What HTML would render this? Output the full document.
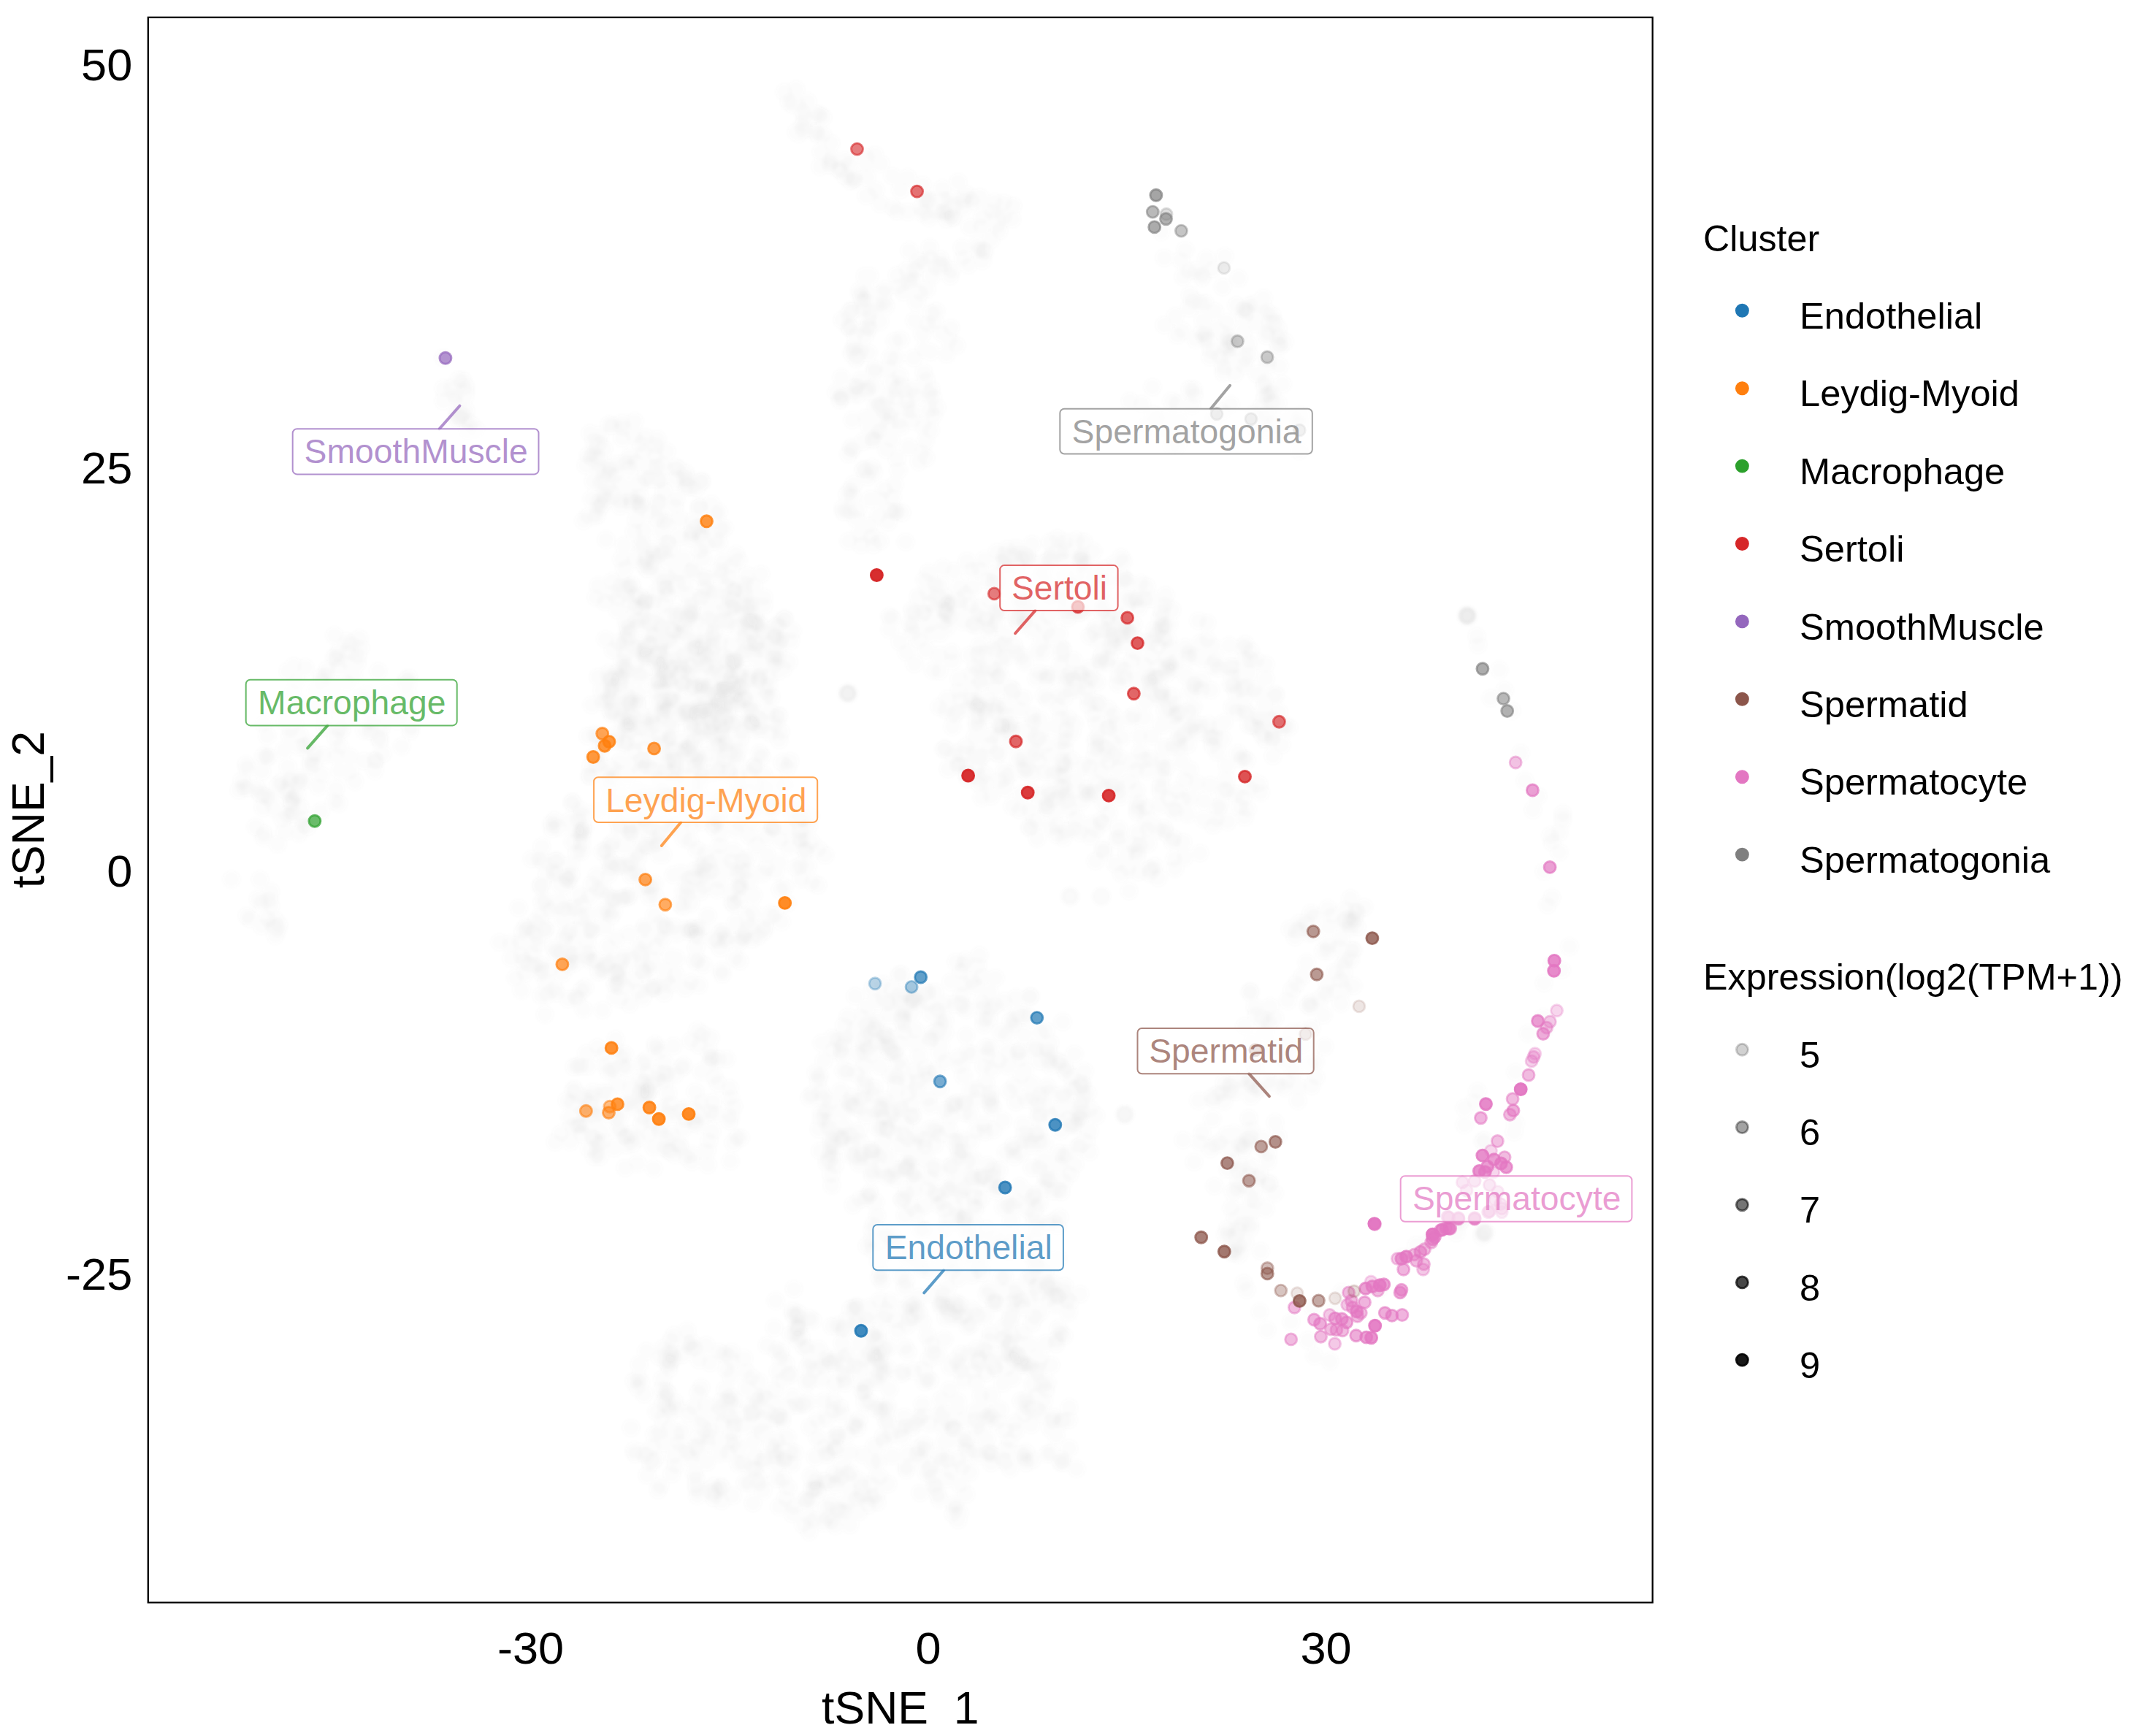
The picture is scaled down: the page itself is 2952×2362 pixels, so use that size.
<!DOCTYPE html>
<html><head><meta charset="utf-8"><title>tSNE expression plot</title>
<style>
html,body{margin:0;padding:0;background:#fff;}
svg{display:block;}
text{font-family:"Liberation Sans",Arial,Helvetica,sans-serif;fill:#000;}
.tk{font-size:61.4px;}
.tt{font-size:62.5px;}
.lg{font-size:50.6px;}
.lb{font-size:46.3px;}
.lt{font-size:50.3px;}
</style></head>
<body>
<svg width="2952" height="2362" viewBox="0 0 2952 2362">
<rect x="0" y="0" width="2952" height="2362" fill="#fff"/>
<defs><clipPath id="pc"><rect x="202.8" y="23.8" width="2059.9" height="2170.5"/></clipPath><filter id="bl" filterUnits="userSpaceOnUse" x="200" y="20" width="2070" height="2180"><feGaussianBlur stdDeviation="2.2"/></filter></defs>
<g clip-path="url(#pc)"><g filter="url(#bl)" fill="none" stroke-linecap="round" stroke-linejoin="round">
<path d="M849 685h0M820 627h0M948 911h0M1039 984h0M981 951h0M886 764h0M948 728h0M870 633h0M888 702h0M855 778h0M947 918h0M1003 990h0M937 857h0M883 598h0M960 659h0M917 957h0M828 677h0M861 991h0M909 714h0M908 932h0M802 637h0M955 720h0M1067 903h0M1064 980h0M838 583h0M917 913h0M954 668h0M1080 906h0M947 991h0M949 841h0M857 919h0M891 777h0M817 706h0M976 973h0M919 1310h0M1005 904h0M1011 1027h0M806 1274h0M759 1123h0M886 1087h0M1026 1058h0M1000 966h0M1026 972h0M827 1020h0M1014 1212h0M1016 830h0M883 1090h0M1084 1115h0M1004 809h0M989 944h0M832 1227h0M959 1221h0M1029 832h0M874 949h0M910 925h0M921 1038h0M798 1116h0M1008 1039h0M784 1306h0M956 1034h0M982 1218h0M1090 1188h0M1041 998h0M793 1272h0M955 1315h0M1033 845h0M902 1149h0M864 1314h0M989 951h0M795 1141h0M889 880h0M966 910h0M922 1131h0M834 955h0M879 1041h0M811 1210h0M1100 1121h0M1120 1212h0M923 1269h0M793 1226h0M1046 890h0M926 1312h0M997 816h0M884 885h0M948 926h0M1033 1110h0M971 1181h0M746 1389h0M1073 903h0M1025 930h0M948 1581h0M858 1568h0M760 1564h0M810 1525h0M934 1462h0M861 1510h0M803 1442h0M807 1573h0M802 1541h0M841 1572h0M877 1499h0M984 1450h0M903 1549h0M528 986h0M518 919h0M475 967h0M390 1139h0M446 925h0M417 1021h0M513 1055h0M317 1204h0M1163 224h0M1118 181h0M1233 260h0M1323 266h0M1264 292h0M1296 300h0M1228 289h0M1227 490h0M1197 509h0M1348 345h0M1257 357h0M1199 592h0M1282 426h0M1192 426h0M1301 378h0M1274 589h0M1280 441h0M1185 572h0M1190 584h0M1181 412h0M1208 574h0M1319 353h0M1737 499h0M1675 510h0M1724 512h0M1730 408h0M1727 420h0M1637 465h0M1749 578h0M1717 567h0M1721 512h0M1702 501h0M1718 416h0M1623 594h0M1569 583h0M1663 569h0M1431 1102h0M1529 1074h0M1760 994h0M1704 1119h0M1518 845h0M1435 801h0M1531 1052h0M1467 1040h0M1397 971h0M1580 927h0M1575 946h0M1473 1068h0M1341 884h0M1251 866h0M1369 991h0M1452 910h0M1724 1074h0M1508 822h0M1716 1070h0M1358 914h0M1339 982h0M1539 792h0M1688 938h0M1481 760h0M1362 787h0M1291 777h0M1304 828h0M1532 927h0M1500 1179h0M1712 903h0M1591 856h0M1518 996h0M1687 913h0M1292 852h0M1547 867h0M1367 796h0M1322 813h0M1556 1054h0M1523 870h0M1521 1073h0M1437 817h0M1557 1105h0M1513 779h0M1539 917h0M1467 801h0M1314 831h0M1597 1051h0M1304 905h0M1742 1009h0M1620 1006h0M1418 1124h0M1628 899h0M1354 862h0M1334 965h0M1351 914h0M1588 956h0M1500 1014h0M1391 750h0M1309 1317h0M1351 1772h0M1371 1750h0M1341 1613h0M1303 1514h0M1405 1688h0M1155 1556h0M1440 1764h0M1274 1614h0M1356 1825h0M1137 1567h0M1122 1473h0M1398 1780h0M1344 1372h0M1380 1687h0M1299 1547h0M1489 1497h0M1383 1839h0M1458 1761h0M1215 1434h0M1416 1437h0M1400 1825h0M1244 1498h0M1199 1646h0M1215 1584h0M1175 1443h0M1207 1519h0M1197 1490h0M1210 1581h0M1313 1578h0M1368 1602h0M1237 1390h0M1233 1703h0M1210 1564h0M1443 1672h0M1287 1443h0M1449 1453h0M1288 1433h0M1467 1474h0M1461 1779h0M1410 1871h0M1193 1851h0M1023 1935h0M1220 1964h0M943 1935h0M1272 1861h0M1214 1946h0M1131 1859h0M914 1860h0M1019 1860h0M1002 1962h0M1316 1804h0M1366 1946h0M1133 1990h0M919 1835h0M1066 1938h0M1464 1983h0M1214 1930h0M1034 1931h0M1100 2088h0M1093 1798h0M1034 2012h0M1405 2003h0M1060 1903h0M1452 2002h0M1413 1930h0M1255 1992h0M920 2018h0M1120 2040h0M1286 2053h0M1105 1893h0M1064 1971h0M1280 2038h0M903 1858h0M1421 1929h0M1237 1879h0M934 1855h0M1139 2083h0M1314 1870h0M1289 1786h0M1087 2063h0M1126 1889h0M1156 1820h0M1116 1995h0M1097 1831h0M1000 1884h0M1176 1874h0M916 1874h0M1005 1942h0M1319 1890h0M1163 2042h0M1189 1854h0M1245 1805h0M1160 2056h0M1285 1856h0M1131 1942h0M1170 1791h0M1159 1808h0M1812 1302h0M1696 1718h0M1712 1682h0M1775 1347h0M1746 1537h0M1697 1568h0M1697 1717h0M1722 1492h0M1742 1436h0M1794 1373h0M1728 1559h0M1750 1556h0M1868 1242h0M2053 917h0M2082 1031h0M2099 1109h0M2135 1167h0M2119 1239h0M2002 1670h0" stroke="#7a7a7a" stroke-opacity="0.02" stroke-width="23.2"/>
<path d="M991 826h0M857 633h0M879 744h0M937 656h0M911 806h0M963 765h0M1029 991h0M831 961h0M913 717h0M1047 866h0M999 953h0M868 597h0M819 686h0M865 691h0M870 688h0M936 866h0M990 970h0M893 752h0M890 656h0M883 823h0M902 657h0M946 737h0M987 724h0M949 960h0M890 882h0M897 946h0M994 906h0M906 728h0M992 898h0M1038 859h0M914 766h0M857 993h0M1027 924h0M902 688h0M917 842h0M984 988h0M983 918h0M990 769h0M795 1109h0M978 957h0M947 878h0M970 939h0M925 1043h0M958 1070h0M918 1091h0M849 937h0M862 1375h0M1063 858h0M978 904h0M1096 1185h0M977 939h0M1031 826h0M829 875h0M984 1020h0M892 1134h0M996 918h0M809 1049h0M910 1327h0M1046 829h0M855 1185h0M892 1320h0M919 1010h0M894 1313h0M943 974h0M857 812h0M925 838h0M1066 855h0M935 918h0M1002 832h0M759 1354h0M958 1008h0M828 824h0M867 1141h0M955 1283h0M814 1006h0M787 1136h0M885 1127h0M893 1015h0M930 960h0M886 1213h0M839 1231h0M724 1320h0M883 890h0M775 1201h0M964 1214h0M985 1126h0M895 1353h0M912 1341h0M906 881h0M780 1124h0M855 1099h0M894 990h0M1046 1275h0M746 1233h0M1030 850h0M1010 858h0M1050 864h0M825 1383h0M728 1176h0M1079 1135h0M1032 1226h0M740 1327h0M851 800h0M947 1130h0M820 1045h0M933 1013h0M1012 941h0M999 1055h0M917 1511h0M983 1483h0M880 1456h0M974 1448h0M826 1496h0M867 1515h0M821 1584h0M792 1541h0M889 1494h0M846 1485h0M776 1507h0M825 1513h0M936 1459h0M464 966h0M492 874h0M523 995h0M331 1069h0M366 1008h0M460 1011h0M355 1086h0M505 989h0M366 1092h0M464 913h0M507 968h0M424 1018h0M401 1093h0M440 1061h0M552 976h0M358 1236h0M366 1258h0M1123 157h0M1328 311h0M1149 233h0M1345 297h0M1357 328h0M1291 273h0M1227 532h0M1162 741h0M1178 404h0M1145 537h0M1181 422h0M1195 602h0M1225 467h0M1217 580h0M1300 466h0M1153 438h0M1290 456h0M1189 483h0M1267 604h0M1217 505h0M1296 485h0M1162 622h0M1254 541h0M652 588h0M1727 557h0M1735 568h0M1781 569h0M1590 317h0M1680 478h0M1751 461h0M1638 370h0M1590 861h0M1630 1093h0M1425 1001h0M1417 1010h0M1392 774h0M1711 1079h0M1424 985h0M1503 801h0M1708 1108h0M1434 924h0M1409 837h0M1635 990h0M1423 1042h0M1249 857h0M1637 941h0M1297 825h0M1434 823h0M1550 1043h0M1742 1012h0M1360 798h0M1531 1084h0M1590 1043h0M1398 819h0M1531 936h0M1403 907h0M1277 918h0M1441 1095h0M1454 896h0M1378 1064h0M1492 871h0M1396 1109h0M1268 890h0M1609 963h0M1362 802h0M1518 971h0M1451 822h0M1449 828h0M1454 1078h0M1375 1056h0M1388 883h0M1574 933h0M1512 1078h0M1559 1098h0M1357 1008h0M1503 963h0M1657 1075h0M1660 1021h0M1348 766h0M1535 1196h0M1420 1148h0M1566 1040h0M1423 1090h0M1482 923h0M1341 1073h0M1454 888h0M1658 945h0M1227 1482h0M1197 1521h0M1368 1453h0M1184 1504h0M1231 1515h0M1243 1559h0M1239 1763h0M1487 1562h0M1465 1783h0M1177 1518h0M1349 1550h0M1461 1580h0M1339 1322h0M1357 1514h0M1418 1653h0M1162 1509h0M1423 1564h0M1302 1598h0M1479 1568h0M1391 1644h0M1336 1654h0M1354 1394h0M1271 1374h0M1433 1435h0M1331 1343h0M1413 1599h0M1193 1586h0M1273 1425h0M1243 1717h0M1216 1420h0M1227 1496h0M1236 1643h0M1424 1797h0M1439 1869h0M1173 1470h0M1202 1544h0M1143 1553h0M1414 1663h0M1293 1374h0M1344 1743h0M1265 1651h0M1310 1784h0M1438 1428h0M1437 1496h0M1401 1562h0M1243 1560h0M1374 1653h0M1448 1679h0M1196 1577h0M1320 1321h0M1417 1723h0M1136 1579h0M1253 1411h0M1319 1680h0M1426 1708h0M1219 1440h0M1271 1359h0M1404 1702h0M1135 1534h0M1457 1502h0M1450 1629h0M1426 1683h0M1401 1540h0M1323 1663h0M1237 1402h0M1301 1597h0M1140 1438h0M1309 1510h0M1305 1741h0M1312 1448h0M1234 1394h0M1204 1515h0M1431 1741h0M1413 1812h0M1213 1691h0M1157 1888h0M1026 2031h0M977 2051h0M1143 2018h0M1062 1781h0M1222 1994h0M1382 1972h0M1039 2025h0M1266 1892h0M1165 1792h0M970 1967h0M1324 1987h0M1207 1933h0M1047 1997h0M1263 1938h0M1071 1945h0M1031 2058h0M1388 1862h0M977 2035h0M950 1927h0M1243 1991h0M1229 1822h0M1249 1954h0M978 1969h0M1028 1926h0M1031 1935h0M1084 2004h0M1108 1890h0M1315 2033h0M1072 2026h0M1174 1811h0M952 1846h0M1191 1920h0M1427 1895h0M913 1905h0M1094 1818h0M1113 1808h0M1174 1955h0M1336 1944h0M1083 1827h0M915 1926h0M1183 1860h0M1403 1867h0M986 1990h0M1737 1480h0M1828 1331h0M1689 1716h0M1728 1571h0M1849 1314h0M1735 1821h0M1676 1483h0M1670 1564h0M1681 1601h0M1724 1489h0M1738 1620h0M2041 956h0M2060 945h0" stroke="#7a7a7a" stroke-opacity="0.02" stroke-width="23.2"/>
<path d="M812 659h0M1022 816h0M916 862h0M868 728h0M819 927h0M984 701h0M1069 876h0M897 623h0M819 643h0M907 972h0M901 695h0M902 688h0M969 723h0M877 694h0M926 655h0M1015 941h0M926 683h0M863 625h0M879 848h0M993 835h0M951 887h0M920 887h0M834 581h0M894 825h0M742 1159h0M952 991h0M1022 1193h0M943 1095h0M966 1002h0M837 1180h0M864 964h0M892 1158h0M1057 1132h0M1020 799h0M1001 1191h0M830 1321h0M885 899h0M942 1025h0M787 1318h0M903 1010h0M835 1078h0M955 977h0M984 1173h0M790 1167h0M861 1279h0M1036 1156h0M874 1167h0M1030 1126h0M842 1348h0M771 1259h0M743 1179h0M845 1005h0M896 1253h0M863 826h0M1054 882h0M770 1333h0M1012 1062h0M970 1192h0M907 1286h0M1012 1217h0M991 1186h0M857 875h0M850 1186h0M778 1248h0M782 1197h0M960 1188h0M1034 1050h0M1060 897h0M1044 1196h0M892 1093h0M1004 1165h0M883 1024h0M873 1198h0M897 1087h0M850 1230h0M861 1187h0M854 1308h0M990 1276h0M796 1145h0M923 866h0M922 1432h0M786 1491h0M952 1519h0M926 1525h0M795 1460h0M842 1437h0M937 1518h0M781 1563h0M814 1584h0M911 1469h0M792 1500h0M960 1529h0M865 1553h0M823 1526h0M1005 1515h0M947 1591h0M955 1411h0M818 1434h0M908 1518h0M411 962h0M544 987h0M563 995h0M463 894h0M431 1032h0M458 957h0M448 960h0M409 1072h0M507 1001h0M409 1141h0M514 1040h0M559 957h0M358 1268h0M342 1258h0M1092 142h0M1090 122h0M1137 222h0M1085 143h0M1205 279h0M1293 290h0M1301 273h0M1271 274h0M1331 275h0M1184 378h0M1265 510h0M1191 378h0M1215 543h0M1188 448h0M1217 568h0M1179 746h0M1196 529h0M1275 533h0M1287 362h0M1210 413h0M1251 490h0M1230 644h0M1237 533h0M1209 401h0M1222 681h0M1233 526h0M607 490h0M1709 427h0M1750 552h0M1644 415h0M1691 511h0M1738 540h0M1710 485h0M1735 492h0M1753 474h0M1750 473h0M1645 456h0M1604 611h0M1660 578h0M1632 556h0M1586 1137h0M1643 1168h0M1504 963h0M1550 905h0M1357 1090h0M1732 1012h0M1516 797h0M1336 914h0M1559 1194h0M1410 825h0M1503 1010h0M1378 869h0M1620 1094h0M1483 1049h0M1453 1016h0M1578 1128h0M1572 1155h0M1332 943h0M1569 1120h0M1587 1103h0M1576 820h0M1352 794h0M1556 1082h0M1703 1038h0M1491 1085h0M1364 842h0M1724 998h0M1457 1061h0M1336 856h0M1561 1030h0M1323 1059h0M1408 766h0M1474 740h0M1586 1202h0M1398 757h0M1502 1071h0M1486 772h0M1507 905h0M1379 787h0M1259 876h0M1440 764h0M1504 878h0M1429 783h0M1599 876h0M1502 934h0M1661 1130h0M1463 984h0M1558 819h0M1271 784h0M1562 799h0M1481 1097h0M1491 957h0M1423 1011h0M1532 1135h0M1419 929h0M1653 876h0M1755 1020h0M1733 910h0M1726 1085h0M1434 1106h0M1668 915h0M1523 877h0M1317 1362h0M1347 1540h0M1382 1714h0M1280 1358h0M1184 1458h0M1270 1478h0M1370 1706h0M1417 1803h0M1303 1714h0M1207 1754h0M1419 1734h0M1233 1569h0M1284 1717h0M1325 1590h0M1277 1599h0M1347 1460h0M1388 1769h0M1347 1612h0M1253 1428h0M1417 1700h0M1365 1624h0M1201 1665h0M1186 1640h0M1374 1769h0M1231 1335h0M1300 1630h0M1195 1711h0M1324 1719h0M1410 1841h0M1448 1775h0M1120 1479h0M1437 1614h0M1125 1524h0M1434 1488h0M1398 1839h0M1250 1370h0M1271 1739h0M1383 1855h0M1435 1676h0M1249 1609h0M1255 1491h0M1138 1609h0M1360 1600h0M1306 1804h0M1184 1431h0M1246 1594h0M1301 1725h0M1465 1607h0M1450 1579h0M1160 1467h0M1195 1353h0M1293 1734h0M1243 1851h0M1044 2001h0M1270 1829h0M899 1933h0M1134 2077h0M884 1992h0M1040 2031h0M998 1973h0M1455 2003h0M1362 1873h0M1218 1902h0M1169 1953h0M1023 1901h0M960 1900h0M988 2036h0M1308 2065h0M1150 1927h0M1286 1937h0M1295 1786h0M1300 1903h0M1091 1924h0M1250 1804h0M1063 2004h0M1316 1854h0M1105 2053h0M1153 1881h0M1183 1906h0M907 1888h0M1147 1966h0M1248 1795h0M1258 1983h0M1086 1800h0M1297 1945h0M1289 2000h0M1067 2063h0M1092 1835h0M914 1908h0M1197 1980h0M985 1927h0M991 1854h0M1354 1853h0M1200 2047h0M1273 2013h0M1127 1981h0M1390 1948h0M1011 2004h0M1035 1910h0M1206 1870h0M1078 1968h0M1295 1804h0M1800 1857h0M1707 1561h0M1721 1623h0M1728 1396h0M1705 1700h0M1818 1244h0M1857 1248h0M2024 883h0M2140 1114h0M1791 1835h0M1768 1810h0M2029 1693h0" stroke="#7a7a7a" stroke-opacity="0.02" stroke-width="23.2"/>
<path d="M846 819h0M1034 899h0M805 707h0M845 635h0M899 811h0M1029 966h0M941 655h0M869 577h0M866 992h0M977 866h0M842 799h0M931 711h0M1008 759h0M928 641h0M1061 873h0M1022 890h0M993 984h0M907 978h0M1002 774h0M960 731h0M813 706h0M908 796h0M943 980h0M980 740h0M897 902h0M1044 911h0M995 906h0M871 984h0M941 976h0M950 939h0M953 1191h0M807 1227h0M952 1316h0M870 1096h0M742 1332h0M859 859h0M867 1342h0M931 1099h0M824 1249h0M913 1056h0M1082 1042h0M1027 851h0M879 833h0M910 922h0M1008 935h0M1017 1284h0M710 1243h0M997 1058h0M1033 853h0M1097 1204h0M953 1298h0M918 1133h0M1003 1236h0M844 1332h0M706 1339h0M859 1018h0M990 972h0M1045 1078h0M892 1215h0M916 932h0M862 804h0M1003 954h0M885 999h0M1012 1077h0M949 999h0M712 1290h0M839 1065h0M961 1063h0M1070 1262h0M1050 1189h0M780 1308h0M861 1228h0M767 1305h0M1056 1108h0M999 1061h0M700 1312h0M754 1327h0M780 1275h0M938 1353h0M995 945h0M1006 990h0M1058 1133h0M1005 990h0M883 991h0M1085 864h0M838 796h0M1008 905h0M835 1158h0M907 1082h0M959 1270h0M965 970h0M949 780h0M844 1285h0M734 1293h0M931 1238h0M936 1125h0M1095 1149h0M902 894h0M910 1032h0M906 1090h0M960 1125h0M975 1549h0M903 1541h0M917 1576h0M827 1442h0M873 1593h0M957 1431h0M959 1509h0M855 1443h0M803 1522h0M938 1533h0M915 1497h0M796 1553h0M974 1449h0M823 1549h0M507 956h0M436 1077h0M524 961h0M359 1056h0M437 966h0M474 878h0M432 946h0M562 1001h0M350 1132h0M520 1014h0M475 934h0M399 1109h0M458 1097h0M478 985h0M418 914h0M399 1096h0M1136 226h0M1138 196h0M1222 284h0M1303 370h0M1188 653h0M1232 515h0M1241 370h0M1345 355h0M1216 715h0M1162 430h0M1317 339h0M1152 542h0M1171 458h0M1345 357h0M1246 377h0M1193 734h0M1170 474h0M1255 414h0M1249 576h0M1205 440h0M1165 425h0M1270 444h0M1232 576h0M628 571h0M634 521h0M638 562h0M1617 356h0M1646 376h0M1735 566h0M1732 543h0M1629 404h0M1671 489h0M1691 477h0M1734 589h0M1563 553h0M1613 610h0M1579 567h0M1581 590h0M1591 993h0M1609 906h0M1653 853h0M1501 859h0M1440 1086h0M1412 1025h0M1551 1156h0M1506 907h0M1401 1038h0M1458 1045h0M1584 952h0M1449 969h0M1371 903h0M1591 953h0M1439 871h0M1704 953h0M1404 855h0M1459 1138h0M1707 939h0M1680 1082h0M1615 1024h0M1241 893h0M1370 925h0M1584 928h0M1456 1076h0M1326 970h0M1294 836h0M1518 1113h0M1450 868h0M1314 804h0M1703 903h0M1473 789h0M1601 970h0M1552 855h0M1543 796h0M1481 766h0M1415 863h0M1588 927h0M1324 768h0M1620 1153h0M1566 983h0M1705 973h0M1296 859h0M1664 1009h0M1525 1016h0M1479 922h0M1511 862h0M1287 867h0M1518 901h0M1536 882h0M1275 867h0M1460 999h0M1286 968h0M1487 1080h0M1707 1041h0M1473 1120h0M1438 742h0M1125 1428h0M1155 1542h0M1225 1442h0M1421 1673h0M1321 1524h0M1335 1677h0M1212 1417h0M1140 1421h0M1273 1514h0M1228 1474h0M1201 1398h0M1346 1380h0M1252 1630h0M1333 1699h0M1331 1793h0M1322 1510h0M1111 1499h0M1221 1691h0M1134 1544h0M1402 1417h0M1336 1689h0M1215 1693h0M1417 1695h0M1215 1374h0M1391 1509h0M1423 1648h0M1194 1684h0M1411 1747h0M1200 1371h0M1250 1366h0M1361 1782h0M1329 1492h0M1187 1379h0M1279 1635h0M1220 1433h0M1424 1498h0M1375 1371h0M1417 1672h0M1220 1610h0M1316 1330h0M1249 1529h0M1247 1586h0M1253 1467h0M1334 1638h0M1453 1632h0M1254 1615h0M1194 1603h0M1395 1440h0M1060 1921h0M1138 2058h0M1377 1831h0M1344 1961h0M1039 1892h0M968 2002h0M1045 2041h0M988 2055h0M1241 2008h0M1180 1894h0M1012 1984h0M1203 2000h0M929 1976h0M1255 1793h0M874 1887h0M897 1998h0M1199 1929h0M1201 2057h0M1049 1915h0M1128 1919h0M966 1924h0M1398 1991h0M957 1862h0M1114 2038h0M1276 2021h0M1323 1972h0M891 2004h0M1328 2016h0M1110 2053h0M1161 1855h0M1376 1958h0M1403 1937h0M1289 1789h0M941 1822h0M954 1980h0M957 1991h0M1414 1895h0M1201 1892h0M875 1868h0M1351 1971h0M997 1918h0M1202 1825h0M1210 1973h0M1263 1810h0M984 1851h0M1020 2030h0M1296 2025h0M1134 2029h0M1836 1374h0M1745 1634h0M1701 1661h0M1853 1262h0M1683 1692h0M1849 1270h0M1712 1479h0M1691 1669h0M1796 1487h0M1836 1342h0M1697 1706h0M1793 1278h0M1719 1464h0M1713 1660h0M1710 1531h0M1788 1263h0M2022 871h0M2106 1090h0M2138 1328h0M2030 1563h0M1837 1769h0M1829 1795h0" stroke="#7a7a7a" stroke-opacity="0.02" stroke-width="23.2"/>
<path d="M986 992h0M871 712h0M870 687h0M961 973h0M926 783h0M821 596h0M808 593h0M1019 853h0M930 735h0M850 662h0M861 962h0M894 770h0M878 608h0M990 967h0M854 747h0M936 765h0M982 964h0M830 739h0M845 835h0M875 885h0M864 685h0M1066 919h0M851 766h0M813 621h0M852 586h0M719 1270h0M980 1021h0M714 1356h0M957 1086h0M773 1285h0M825 1218h0M868 1029h0M889 1228h0M755 1128h0M804 1253h0M850 1087h0M1069 1150h0M845 1124h0M817 1047h0M850 1058h0M848 1137h0M799 1133h0M965 1169h0M995 990h0M1026 839h0M1083 877h0M1014 1011h0M762 1360h0M945 1273h0M1074 878h0M1007 1264h0M870 815h0M805 1304h0M799 1382h0M1023 788h0M890 854h0M889 850h0M860 1227h0M982 1287h0M859 1062h0M1073 915h0M781 1184h0M1069 1002h0M876 1357h0M901 909h0M741 1363h0M789 1366h0M963 1321h0M805 1008h0M925 1068h0M878 997h0M841 1231h0M1005 1238h0M882 887h0M951 1049h0M899 852h0M810 1274h0M1039 932h0M758 1192h0M1006 808h0M976 873h0M898 993h0M1013 921h0M820 1331h0M836 1188h0M857 1557h0M843 1423h0M882 1501h0M881 1530h0M884 1452h0M783 1509h0M889 1553h0M833 1467h0M883 1482h0M793 1541h0M1009 1558h0M837 1526h0M812 1495h0M795 1517h0M1000 1528h0M396 1087h0M514 1042h0M394 919h0M338 1079h0M480 881h0M397 1072h0M421 1132h0M428 969h0M464 1100h0M415 1069h0M463 999h0M402 912h0M377 1281h0M376 1269h0M1124 208h0M1305 298h0M1165 248h0M1368 316h0M1319 274h0M1265 479h0M1194 640h0M1225 664h0M1185 458h0M1152 517h0M1272 561h0M1212 396h0M1221 562h0M1164 671h0M1155 701h0M1263 457h0M1228 628h0M1264 360h0M1172 491h0M1326 363h0M1188 400h0M1274 482h0M1179 480h0M1184 459h0M644 580h0M607 549h0M621 548h0M1709 471h0M1704 424h0M1612 459h0M1683 489h0M1719 443h0M1663 426h0M1654 466h0M1759 468h0M1353 957h0M1457 837h0M1508 1056h0M1635 936h0M1251 839h0M1596 1140h0M1702 943h0M1594 1023h0M1593 874h0M1586 913h0M1367 1032h0M1569 1106h0M1491 1088h0M1538 769h0M1534 1091h0M1335 1031h0M1520 790h0M1599 921h0M1451 758h0M1431 1057h0M1623 886h0M1609 981h0M1567 821h0M1710 993h0M1578 1191h0M1328 828h0M1429 771h0M1660 885h0M1406 812h0M1507 1124h0M1306 782h0M1532 1146h0M1721 996h0M1765 996h0M1556 1165h0M1398 766h0M1575 1196h0M1382 1060h0M1591 838h0M1471 991h0M1337 990h0M1634 968h0M1532 1037h0M1376 968h0M1465 922h0M1554 893h0M1342 1038h0M1547 1071h0M1751 975h0M1614 1013h0M1402 1054h0M1314 1046h0M1494 805h0M1401 828h0M1468 1002h0M1659 1010h0M1743 1001h0M1341 958h0M1644 880h0M1699 1039h0M1498 792h0M1282 818h0M1396 793h0M1674 1012h0M1370 994h0M1293 817h0M1281 835h0M1376 1079h0M1443 757h0M1304 995h0M1306 1562h0M1125 1532h0M1266 1684h0M1186 1527h0M1137 1509h0M1188 1436h0M1153 1443h0M1493 1519h0M1304 1623h0M1348 1802h0M1239 1384h0M1429 1589h0M1422 1550h0M1253 1368h0M1235 1375h0M1394 1855h0M1337 1505h0M1198 1408h0M1445 1786h0M1250 1528h0M1347 1610h0M1343 1642h0M1318 1623h0M1477 1570h0M1442 1773h0M1341 1308h0M1231 1362h0M1408 1751h0M1420 1710h0M1452 1456h0M1419 1857h0M1373 1534h0M1214 1545h0M1477 1524h0M1337 1549h0M1315 1632h0M1345 1699h0M1177 1643h0M1203 1702h0M1401 1790h0M1465 1541h0M1430 1588h0M1389 1584h0M1406 1865h0M1316 1374h0M1240 1601h0M1436 1439h0M1365 1783h0M1425 1862h0M1350 1434h0M1179 1504h0M1364 1631h0M1389 1487h0M1471 1443h0M1209 1695h0M1318 2009h0M1097 1923h0M1293 1834h0M1147 2067h0M1109 1954h0M1069 1859h0M924 1920h0M1314 2072h0M1141 1971h0M1093 1818h0M1446 1965h0M955 2048h0M1002 1851h0M1304 1954h0M1463 1944h0M1205 1927h0M1085 1913h0M1242 1815h0M1289 1916h0M1202 1834h0M1060 1985h0M1204 1781h0M1309 1796h0M1003 2048h0M946 1846h0M1197 1841h0M993 1903h0M1106 1871h0M1205 1865h0M1110 2021h0M1106 1919h0M1323 1978h0M982 2041h0M1154 1868h0M1438 1956h0M1159 1869h0M1182 2048h0M970 2041h0M1113 2028h0M1312 2081h0M1452 1946h0M1245 1787h0M1153 2022h0M1155 1859h0M886 2020h0M1144 2089h0M1029 1935h0M1063 1942h0M1153 2008h0M1326 1854h0M934 1960h0M1021 1878h0M1712 1546h0M1688 1632h0M1685 1714h0M1770 1414h0M1814 1433h0M1710 1559h0M1817 1348h0M1718 1379h0M1695 1604h0M1725 1608h0M1794 1457h0M1836 1285h0M1819 1269h0M1791 1377h0M1802 1475h0M1858 1248h0M2123 1144h0M2125 1321h0M1956 1701h0" stroke="#7a7a7a" stroke-opacity="0.02" stroke-width="23.2"/>
<path d="M1059 900h0M828 685h0M966 792h0M1014 927h0M909 673h0M851 971h0M984 743h0M901 710h0M959 754h0M859 953h0M827 615h0M908 959h0M842 651h0M958 897h0M1007 939h0M837 946h0M913 618h0M833 922h0M846 1186h0M767 1211h0M1043 1036h0M717 1316h0M1057 1107h0M896 1101h0M773 1212h0M881 1330h0M1000 931h0M856 896h0M767 1303h0M973 1001h0M976 885h0M936 937h0M860 867h0M837 1254h0M941 891h0M972 983h0M901 1155h0M1039 1098h0M1020 869h0M810 1272h0M1026 1144h0M1061 870h0M965 1193h0M905 1067h0M1025 851h0M832 924h0M991 1039h0M880 1366h0M857 1351h0M1010 962h0M847 1352h0M761 1178h0M1067 980h0M891 868h0M1012 1290h0M874 857h0M936 1063h0M984 1121h0M993 1010h0M943 846h0M870 1045h0M882 1269h0M900 1351h0M1001 1031h0M854 1158h0M872 960h0M765 1133h0M978 810h0M887 1355h0M758 1298h0M1004 927h0M762 1132h0M846 1346h0M1062 1193h0M930 908h0M954 1271h0M916 1349h0M836 973h0M1067 1181h0M974 1193h0M959 939h0M829 1165h0M863 873h0M1106 1186h0M904 912h0M992 937h0M1050 947h0M903 1440h0M960 1467h0M902 1469h0M972 1457h0M935 1546h0M913 1472h0M856 1599h0M893 1535h0M866 1566h0M999 1535h0M551 939h0M360 1106h0M560 936h0M550 1022h0M401 947h0M445 996h0M519 1010h0M458 870h0M498 1042h0M499 1000h0M352 1079h0M361 1035h0M361 991h0M356 1204h0M353 1231h0M1118 183h0M1386 300h0M1170 245h0M1199 260h0M1206 224h0M1269 274h0M1198 212h0M1233 584h0M1174 698h0M1203 706h0M1177 398h0M1197 601h0M1283 558h0M1249 532h0M1245 386h0M1152 545h0M1227 700h0M1260 401h0M1187 535h0M1666 450h0M1776 577h0M1676 456h0M1752 501h0M1736 455h0M1677 473h0M1611 552h0M1578 530h0M1386 950h0M1294 1025h0M1318 851h0M1515 907h0M1332 804h0M1356 823h0M1518 854h0M1541 928h0M1344 1035h0M1569 880h0M1492 1050h0M1465 1108h0M1338 1051h0M1440 926h0M1367 1008h0M1385 943h0M1335 1009h0M1365 1031h0M1746 952h0M1325 1032h0M1355 858h0M1647 902h0M1383 991h0M1666 1121h0M1409 1133h0M1509 814h0M1339 996h0M1488 943h0M1637 898h0M1639 1073h0M1581 1186h0M1609 1189h0M1450 815h0M1455 890h0M1557 1172h0M1590 949h0M1491 965h0M1536 870h0M1648 1122h0M1394 1039h0M1508 794h0M1626 1115h0M1703 886h0M1286 919h0M1530 1150h0M1675 1082h0M1671 1102h0M1339 969h0M1392 847h0M1595 973h0M1500 780h0M1622 1174h0M1395 823h0M1330 924h0M1249 835h0M1313 1030h0M1497 755h0M1515 1024h0M1483 1086h0M1583 928h0M1265 840h0M1303 893h0M1485 786h0M1315 958h0M1469 801h0M1461 1090h0M1600 1093h0M1458 742h0M1482 1488h0M1455 1499h0M1108 1503h0M1457 1617h0M1308 1788h0M1280 1567h0M1463 1797h0M1306 1785h0M1177 1585h0M1319 1473h0M1480 1511h0M1312 1750h0M1128 1452h0M1389 1396h0M1320 1667h0M1289 1403h0M1474 1489h0M1420 1732h0M1434 1448h0M1424 1413h0M1423 1519h0M1239 1664h0M1383 1706h0M1421 1758h0M1360 1610h0M1459 1467h0M1380 1460h0M1355 1359h0M1354 1766h0M1356 1496h0M1207 1545h0M1347 1395h0M1403 1552h0M1402 1390h0M1325 1441h0M1277 1415h0M1166 1502h0M1457 1829h0M1410 1365h0M1433 1516h0M1240 1754h0M1456 1584h0M1224 1552h0M1281 1467h0M1215 1371h0M1210 1368h0M1201 1427h0M1331 1746h0M1319 1509h0M1422 1773h0M1238 1413h0M1480 1530h0M1290 1645h0M1326 1681h0M1437 1447h0M1241 1633h0M1423 1526h0M1243 1724h0M1442 1631h0M1457 1768h0M1294 1414h0M1258 1446h0M1472 1594h0M1191 1633h0M1127 1870h0M1092 1802h0M1336 1932h0M1037 1917h0M1291 1935h0M1347 1848h0M1346 1932h0M1195 2001h0M1334 1877h0M1117 2027h0M1239 1953h0M1143 1984h0M1386 1887h0M1186 1806h0M1373 1894h0M1289 1952h0M1199 1859h0M986 2036h0M923 1859h0M1239 1844h0M1157 1894h0M1216 2032h0M894 1981h0M1050 1842h0M1176 1944h0M1391 1959h0M952 1982h0M1268 2016h0M1413 1999h0M1267 1985h0M969 1976h0M1060 1818h0M1080 1926h0M1374 1834h0M1128 2085h0M1275 2008h0M1438 1989h0M1226 1808h0M1073 1998h0M1273 1890h0M1090 1802h0M1455 1997h0M1172 1789h0M1182 1992h0M1209 1967h0M1419 1879h0M1088 1989h0M1842 1316h0M1783 1337h0M1853 1301h0M1741 1485h0M1712 1357h0M1775 1274h0M1643 1564h0M1738 1400h0M1771 1459h0M1759 1451h0M1712 1597h0M1800 1255h0M1713 1642h0M1750 1485h0M1847 1264h0M2114 1346h0M2115 1409h0M2073 1550h0M2075 1538h0M2028 1604h0M1888 1765h0M2135 1140h0M2005 1517h0" stroke="#7a7a7a" stroke-opacity="0.02" stroke-width="23.2"/>
<path d="M914 814h0M966 895h0M862 641h0M810 965h0M988 1004h0M824 639h0M883 655h0M961 945h0M914 744h0M824 946h0M915 973h0M987 960h0M961 945h0M876 680h0M882 774h0M970 847h0M809 627h0M916 931h0M831 668h0M961 659h0M996 980h0M899 610h0M915 877h0M828 651h0M993 942h0M1049 954h0M938 1273h0M734 1262h0M894 981h0M967 873h0M1074 1215h0M927 1278h0M954 1163h0M833 1198h0M732 1322h0M850 929h0M1055 1251h0M977 1059h0M985 1158h0M736 1284h0M994 1283h0M746 1272h0M791 1122h0M946 1237h0M885 1049h0M960 819h0M796 1257h0M838 1316h0M906 859h0M899 1055h0M911 1268h0M865 801h0M888 1134h0M1046 1061h0M986 879h0M1023 1175h0M848 1130h0M760 1197h0M897 1227h0M969 1254h0M1010 1197h0M845 1014h0M922 1058h0M851 1315h0M1052 1256h0M801 1352h0M684 1290h0M1023 1254h0M825 1328h0M1103 1164h0M977 1132h0M714 1308h0M819 1008h0M775 1280h0M749 1362h0M718 1333h0M932 1195h0M837 1104h0M1024 1262h0M830 1059h0M922 1198h0M1026 1207h0M870 832h0M1047 1093h0M1071 1044h0M878 921h0M983 1042h0M864 1198h0M1040 855h0M1041 925h0M1002 1093h0M884 1291h0M968 862h0M936 1148h0M832 1496h0M819 1566h0M814 1529h0M780 1530h0M913 1559h0M910 1480h0M999 1490h0M971 1562h0M840 1465h0M794 1525h0M873 1559h0M791 1459h0M853 1460h0M924 1471h0M855 1556h0M524 1032h0M389 1027h0M468 999h0M381 1075h0M361 1141h0M327 1082h0M560 951h0M426 1041h0M400 1101h0M509 989h0M494 887h0M486 1070h0M530 948h0M503 948h0M1099 171h0M1074 126h0M1190 267h0M1222 241h0M1186 224h0M1158 242h0M1263 253h0M1290 258h0M1266 271h0M1301 289h0M1307 281h0M1187 215h0M1186 268h0M1261 285h0M1168 479h0M1242 559h0M1288 355h0M1204 590h0M1184 643h0M1196 746h0M1235 702h0M1244 612h0M1179 520h0M638 530h0M1650 415h0M1646 380h0M1693 418h0M1623 342h0M1681 462h0M1705 492h0M1734 460h0M1742 432h0M1547 549h0M1615 577h0M1567 593h0M1675 563h0M1637 589h0M1547 984h0M1482 837h0M1644 993h0M1555 929h0M1559 945h0M1457 803h0M1377 774h0M1361 889h0M1605 916h0M1505 1019h0M1509 1127h0M1365 756h0M1413 1058h0M1330 959h0M1461 1097h0M1491 915h0M1469 930h0M1524 1075h0M1676 989h0M1685 912h0M1373 809h0M1626 1020h0M1680 1048h0M1481 773h0M1539 793h0M1594 1134h0M1589 1076h0M1498 865h0M1306 823h0M1630 995h0M1430 952h0M1479 1140h0M1406 1057h0M1442 1058h0M1456 1147h0M1387 760h0M1218 844h0M1311 974h0M1525 1033h0M1561 1157h0M1596 815h0M1399 1087h0M1517 1044h0M1382 994h0M1728 1006h0M1511 1100h0M1546 1220h0M1474 944h0M1615 976h0M1350 930h0M1528 991h0M1527 1183h0M1573 935h0M1665 904h0M1312 822h0M1437 1034h0M1436 1084h0M1322 1049h0M1339 895h0M1361 965h0M1477 763h0M1682 914h0M1606 1108h0M1392 848h0M1409 1109h0M1668 995h0M1567 910h0M1315 1787h0M1196 1499h0M1384 1801h0M1151 1559h0M1136 1573h0M1258 1716h0M1231 1453h0M1478 1532h0M1235 1642h0M1396 1624h0M1298 1762h0M1363 1339h0M1333 1726h0M1385 1795h0M1409 1562h0M1191 1415h0M1182 1581h0M1363 1376h0M1152 1520h0M1213 1506h0M1448 1774h0M1209 1429h0M1357 1620h0M1315 1459h0M1436 1453h0M1277 1772h0M1429 1627h0M1161 1392h0M1361 1694h0M1350 1482h0M1352 1595h0M1222 1701h0M1319 1576h0M1412 1484h0M1150 1558h0M1234 1334h0M1479 1772h0M1382 1810h0M1155 1520h0M1380 1650h0M1418 1762h0M1254 1567h0M1258 1374h0M1257 1481h0M1128 1503h0M1424 1453h0M1405 1633h0M1187 1706h0M1382 1494h0M1414 1501h0M1359 1516h0M1117 1469h0M1123 1576h0M1306 1512h0M1377 1578h0M1223 1525h0M1263 1684h0M1423 1599h0M1069 1851h0M983 1935h0M1383 2011h0M1299 1973h0M1211 1879h0M1005 1976h0M1119 1969h0M1293 1974h0M1116 1875h0M1103 2054h0M1193 2050h0M1082 1987h0M1398 1918h0M1069 1987h0M1172 2052h0M1129 2028h0M1260 2044h0M877 1893h0M1276 1840h0M1355 1989h0M1139 1816h0M1337 1847h0M1006 1951h0M1108 2097h0M882 1909h0M1214 1946h0M1045 1912h0M920 1853h0M1181 1906h0M1318 1969h0M1176 2027h0M1074 1985h0M1425 1936h0M911 1914h0M947 1838h0M1209 1804h0M1306 1955h0M1264 1875h0M1269 1887h0M1434 1991h0M1374 1999h0M1335 1987h0M1715 1499h0M1795 1250h0M1778 1488h0M1694 1628h0M1713 1557h0M1733 1414h0M1726 1713h0M1691 1711h0M1672 1497h0M1701 1598h0M1719 1644h0M1731 1442h0M1736 1590h0M1797 1277h0M1725 1796h0M1713 1501h0M1704 1405h0M1680 1683h0M1703 1757h0M1703 1572h0M1767 1438h0M1840 1264h0M1847 1257h0M2019 1508h0" stroke="#7a7a7a" stroke-opacity="0.02" stroke-width="23.2"/>
<path d="M889 640h0M806 623h0M822 661h0M1026 882h0M1029 978h0M945 837h0M994 921h0M843 922h0M883 767h0M1002 821h0M934 936h0M840 680h0M810 683h0M1042 786h0M941 814h0M904 918h0M813 603h0M838 674h0M909 829h0M1030 973h0M837 977h0M872 662h0M976 922h0M877 662h0M1025 828h0M1019 875h0M852 905h0M966 943h0M925 804h0M908 755h0M876 817h0M852 579h0M879 748h0M957 967h0M994 1288h0M1064 1074h0M903 890h0M987 788h0M1062 992h0M1044 989h0M908 1088h0M925 1334h0M1078 1051h0M1008 1136h0M909 1126h0M946 1034h0M904 1263h0M832 1014h0M747 1273h0M924 1049h0M832 1068h0M740 1213h0M784 1153h0M874 1298h0M1046 818h0M984 956h0M1010 1084h0M939 1030h0M824 961h0M881 1331h0M1016 1191h0M1064 857h0M815 1315h0M921 958h0M871 849h0M1040 1031h0M749 1197h0M903 1279h0M1028 1269h0M1130 1171h0M952 1203h0M1112 1208h0M977 1128h0M1029 1109h0M985 1206h0M1020 1277h0M905 941h0M936 1220h0M1034 980h0M819 1218h0M952 874h0M863 1000h0M941 1204h0M1030 946h0M724 1271h0M832 1248h0M878 1327h0M878 1311h0M1098 1149h0M928 798h0M742 1235h0M850 1327h0M1107 1131h0M738 1176h0M889 1040h0M979 1103h0M930 923h0M778 1368h0M878 1480h0M844 1529h0M768 1552h0M801 1503h0M916 1576h0M805 1460h0M785 1494h0M1004 1565h0M933 1520h0M786 1461h0M851 1448h0M897 1430h0M924 1581h0M881 1516h0M968 1576h0M920 1553h0M440 927h0M393 1116h0M369 1093h0M411 1023h0M458 900h0M398 999h0M375 1107h0M460 1080h0M390 988h0M397 1067h0M404 990h0M1127 185h0M1123 228h0M1357 289h0M1151 232h0M1187 243h0M1243 290h0M1274 353h0M1199 556h0M1340 342h0M1249 563h0M1292 364h0M1282 367h0M1268 627h0M1240 742h0M1252 439h0M1213 419h0M1245 343h0M1167 539h0M1264 583h0M1272 539h0M1219 699h0M623 543h0M607 532h0M633 566h0M1742 551h0M1680 441h0M1769 572h0M1620 379h0M1732 522h0M1750 450h0M1737 441h0M1728 571h0M1690 467h0M1744 441h0M1720 588h0M1635 541h0M1445 1111h0M1712 891h0M1623 1068h0M1535 763h0M1571 1135h0M1295 972h0M1630 946h0M1529 875h0M1402 1000h0M1408 1003h0M1745 986h0M1526 772h0M1341 966h0M1406 761h0M1427 856h0M1460 927h0M1306 1034h0M1683 884h0M1341 843h0M1453 983h0M1460 821h0M1414 980h0M1350 1071h0M1363 919h0M1536 863h0M1340 832h0M1509 837h0M1714 993h0M1573 927h0M1434 958h0M1608 1176h0M1471 839h0M1499 1036h0M1434 1106h0M1692 1087h0M1610 1111h0M1286 897h0M1330 780h0M1512 1034h0M1447 1094h0M1375 760h0M1498 978h0M1667 1030h0M1519 885h0M1339 1064h0M1257 817h0M1457 1048h0M1434 864h0M1624 925h0M1445 994h0M1668 1106h0M1584 869h0M1706 976h0M1591 948h0M1555 821h0M1589 1083h0M1595 828h0M1297 957h0M1362 974h0M1433 1020h0M1229 1536h0M1190 1637h0M1329 1563h0M1308 1653h0M1451 1595h0M1411 1569h0M1234 1600h0M1358 1464h0M1220 1472h0M1311 1563h0M1285 1649h0M1182 1439h0M1485 1467h0M1325 1816h0M1212 1419h0M1284 1383h0M1434 1756h0M1388 1405h0M1309 1730h0M1255 1660h0M1406 1716h0M1452 1548h0M1370 1625h0M1357 1381h0M1384 1671h0M1164 1513h0M1241 1479h0M1208 1347h0M1391 1366h0M1419 1682h0M1411 1364h0M1177 1563h0M1312 1573h0M1239 1538h0M1281 1544h0M1273 1546h0M1266 1570h0M1227 1614h0M1151 1494h0M1223 1701h0M1370 1413h0M1183 1479h0M1196 1677h0M1397 1579h0M1235 1462h0M1294 1682h0M1193 1445h0M1139 1623h0M1242 1592h0M967 1842h0M1033 1995h0M1379 1984h0M1029 1886h0M1200 1859h0M1309 1863h0M1179 2046h0M1217 1845h0M1004 1917h0M1147 1815h0M1195 1872h0M1341 1993h0M1297 1999h0M917 1851h0M1039 1953h0M1357 2003h0M1112 2039h0M1046 1948h0M868 1986h0M1070 1890h0M1239 1793h0M896 1964h0M1079 2037h0M1406 1926h0M1085 1795h0M1398 1868h0M1464 1927h0M1207 1882h0M1075 1998h0M1171 1950h0M1107 2077h0M1350 1880h0M1082 1883h0M1392 1855h0M1340 1864h0M909 1976h0M1443 1940h0M1176 2070h0M1121 1847h0M1272 1949h0M1219 1782h0M876 1988h0M997 1989h0M1180 2035h0M1152 1936h0M1185 1899h0M1170 1871h0M1405 1989h0M1047 1942h0M911 1863h0M1729 1393h0M1720 1389h0M1660 1532h0M1812 1390h0M1733 1655h0M1691 1495h0M1712 1676h0M1641 1507h0M1789 1318h0M1718 1458h0M1678 1691h0M1708 1483h0M1807 1368h0M1841 1259h0M1764 1430h0M1723 1613h0M2125 1153h0M2032 1561h0M1999 1674h0M2023 1494h0" stroke="#7a7a7a" stroke-opacity="0.02" stroke-width="23.2"/>
<path d="M960 736h0M966 746h0M883 827h0M824 692h0M957 983h0M850 926h0M963 791h0M1055 1003h0M860 986h0M863 957h0M943 911h0M939 648h0M940 666h0M944 972h0M1036 881h0M852 600h0M849 693h0M990 849h0M946 782h0M997 854h0M894 898h0M813 1036h0M807 1063h0M945 1021h0M950 1077h0M839 1154h0M993 1103h0M903 1021h0M909 1360h0M938 973h0M1001 928h0M995 942h0M818 1110h0M828 1269h0M1030 1286h0M773 1244h0M839 890h0M912 1089h0M1033 1049h0M913 1043h0M986 1277h0M1090 1122h0M915 936h0M1110 1118h0M1008 1033h0M944 1276h0M1058 1134h0M817 1199h0M819 802h0M1097 1136h0M940 1049h0M1006 1312h0M796 1356h0M1068 1218h0M859 932h0M843 1366h0M796 1155h0M1031 1249h0M961 889h0M873 1194h0M1074 847h0M1022 1081h0M850 1368h0M1056 1104h0M1017 957h0M920 953h0M699 1292h0M740 1254h0M1102 1164h0M854 962h0M986 1142h0M862 1138h0M999 791h0M1049 1111h0M823 1022h0M921 864h0M903 896h0M1005 831h0M1095 1139h0M1047 1270h0M973 969h0M896 1210h0M841 941h0M1078 1237h0M874 1093h0M840 1248h0M854 1017h0M951 1039h0M874 1174h0M977 1287h0M941 1226h0M926 939h0M914 1016h0M877 1054h0M881 893h0M833 1296h0M935 1241h0M996 1027h0M848 1544h0M885 1469h0M829 1458h0M826 1563h0M980 1525h0M1014 1558h0M888 1486h0M783 1542h0M850 1527h0M808 1511h0M962 1416h0M895 1600h0M969 1595h0M931 1570h0M838 1462h0M900 1477h0M1000 1503h0M560 928h0M416 1130h0M411 967h0M494 954h0M463 979h0M443 1034h0M406 933h0M455 937h0M448 917h0M425 1047h0M555 937h0M369 1232h0M374 1268h0M377 1260h0M380 1273h0M1099 153h0M1272 298h0M1169 245h0M1375 297h0M1304 297h0M1387 282h0M1174 488h0M1162 448h0M1205 741h0M1166 484h0M1171 530h0M1278 569h0M1228 377h0M1160 677h0M1226 544h0M1262 619h0M1258 632h0M1310 473h0M1237 400h0M1226 701h0M1172 710h0M1150 548h0M1268 520h0M1166 426h0M1190 449h0M1251 383h0M1167 575h0M629 571h0M626 567h0M1735 539h0M1627 371h0M1647 439h0M1651 457h0M1762 593h0M1674 393h0M1756 526h0M1658 480h0M1584 573h0M1344 1092h0M1429 892h0M1628 974h0M1272 856h0M1445 811h0M1342 934h0M1717 944h0M1470 904h0M1341 779h0M1454 1041h0M1518 862h0M1478 839h0M1411 1084h0M1643 1002h0M1627 893h0M1698 1105h0M1575 1190h0M1328 897h0M1743 1035h0M1618 1043h0M1755 995h0M1218 862h0M1447 1130h0M1517 997h0M1452 1049h0M1365 942h0M1577 1008h0M1349 893h0M1629 1054h0M1528 839h0M1401 956h0M1458 753h0M1459 1013h0M1468 945h0M1423 921h0M1404 851h0M1612 976h0M1638 1003h0M1274 827h0M1366 967h0M1343 915h0M1541 858h0M1420 836h0M1646 944h0M1581 862h0M1350 979h0M1392 893h0M1375 882h0M1311 1048h0M1568 961h0M1558 1140h0M1371 770h0M1559 832h0M1350 847h0M1372 995h0M1292 1026h0M1221 847h0M1254 1724h0M1416 1726h0M1434 1607h0M1220 1354h0M1155 1466h0M1164 1553h0M1339 1625h0M1285 1411h0M1315 1584h0M1264 1561h0M1451 1667h0M1323 1418h0M1256 1729h0M1432 1613h0M1154 1431h0M1285 1603h0M1446 1840h0M1392 1764h0M1294 1520h0M1215 1689h0M1204 1749h0M1376 1749h0M1266 1462h0M1323 1383h0M1193 1699h0M1298 1627h0M1237 1553h0M1329 1526h0M1394 1440h0M1280 1598h0M1455 1399h0M1204 1584h0M1203 1728h0M1259 1683h0M1249 1512h0M1207 1603h0M1143 1571h0M1391 1777h0M1241 1598h0M1291 1771h0M1356 1435h0M1186 1486h0M1240 1361h0M1168 1650h0M1332 1587h0M1217 1714h0M1138 1560h0M1353 1714h0M1344 1720h0M1313 1673h0M1328 1607h0M1170 1515h0M1351 1683h0M1321 1627h0M1268 1586h0M1031 2011h0M908 1846h0M918 1864h0M1284 2046h0M976 2045h0M1091 1817h0M1002 1923h0M925 2007h0M989 1918h0M947 1997h0M1076 1867h0M1146 1965h0M1195 1831h0M1045 1960h0M1196 1854h0M1115 2081h0M1041 1961h0M958 1950h0M1400 1869h0M1194 2032h0M868 1891h0M904 2034h0M1266 1978h0M1149 2025h0M972 1866h0M870 1991h0M1253 1949h0M995 1875h0M1234 1881h0M1238 1940h0M1184 1920h0M1357 1911h0M1087 1765h0M1157 2070h0M1065 1878h0M964 1957h0M1376 1853h0M1177 1839h0M1161 2019h0M918 1933h0M988 1948h0M1141 1919h0M1351 1940h0M1676 1508h0M1818 1302h0M1646 1551h0M1761 1453h0M1686 1575h0M1758 1489h0M1769 1355h0M1707 1766h0M1714 1427h0M1692 1692h0M1664 1568h0M1710 1609h0M1683 1573h0M1858 1269h0M1921 1721h0M1854 1783h0" stroke="#7a7a7a" stroke-opacity="0.02" stroke-width="23.2"/>
<path d="M835 641h0M923 904h0M974 690h0M817 611h0M1034 999h0M863 679h0M913 973h0M996 803h0M886 779h0M980 703h0M912 804h0M946 840h0M821 607h0M857 916h0M1053 927h0M882 726h0M916 919h0M1010 962h0M881 619h0M799 713h0M966 806h0M838 960h0M853 915h0M1011 767h0M899 639h0M909 910h0M1025 991h0M816 818h0M918 988h0M870 888h0M1022 848h0M924 640h0M924 693h0M992 723h0M963 882h0M903 1142h0M1010 960h0M963 1200h0M864 1141h0M915 1102h0M855 1114h0M885 1158h0M882 898h0M967 976h0M947 834h0M761 1241h0M1068 1095h0M783 1099h0M877 1305h0M1018 1283h0M778 1323h0M871 1119h0M993 1019h0M982 971h0M983 1055h0M1098 1119h0M1099 1106h0M897 1297h0M916 1011h0M856 880h0M873 1082h0M1017 809h0M756 1135h0M1121 1163h0M962 996h0M948 1202h0M1085 1107h0M885 823h0M888 1325h0M825 1166h0M1015 839h0M1061 910h0M856 997h0M894 1353h0M884 1091h0M958 904h0M748 1343h0M930 869h0M1036 851h0M767 1234h0M861 866h0M1012 1231h0M931 980h0M1013 1316h0M846 1330h0M855 1229h0M957 978h0M1017 1178h0M1004 909h0M845 1346h0M954 1278h0M785 1292h0M837 940h0M896 870h0M741 1212h0M761 1303h0M842 977h0M808 1062h0M882 1273h0M910 1572h0M1000 1590h0M946 1425h0M898 1434h0M939 1583h0M893 1485h0M951 1537h0M887 1497h0M930 1568h0M572 969h0M460 1034h0M411 1105h0M429 1048h0M446 985h0M397 1008h0M337 1047h0M400 1115h0M391 1082h0M490 898h0M361 1147h0M440 934h0M410 1006h0M338 1254h0M371 1241h0M1090 181h0M1102 162h0M1094 183h0M1127 161h0M1342 270h0M1362 277h0M1282 290h0M1334 271h0M1347 342h0M1365 297h0M1342 273h0M1312 249h0M1366 308h0M1219 489h0M1181 605h0M1273 339h0M1210 563h0M1165 613h0M1169 663h0M1253 368h0M1206 555h0M1198 505h0M1173 529h0M640 590h0M618 531h0M637 542h0M638 537h0M1729 580h0M1779 582h0M1703 423h0M1685 469h0M1751 472h0M1675 502h0M1742 537h0M1702 454h0M1677 351h0M1609 433h0M1619 453h0M1734 426h0M1628 422h0M1604 592h0M1634 533h0M1596 574h0M1457 956h0M1438 1133h0M1536 1010h0M1363 837h0M1413 745h0M1366 926h0M1332 855h0M1645 931h0M1612 993h0M1378 979h0M1606 1022h0M1533 846h0M1502 990h0M1471 1135h0M1607 1148h0M1407 765h0M1380 1001h0M1420 892h0M1461 932h0M1544 829h0M1597 914h0M1720 905h0M1348 972h0M1422 811h0M1462 846h0M1726 950h0M1511 834h0M1732 969h0M1538 818h0M1460 1083h0M1577 899h0M1424 791h0M1510 1163h0M1615 1007h0M1655 992h0M1294 839h0M1493 1145h0M1589 847h0M1336 842h0M1280 800h0M1631 999h0M1591 1064h0M1723 982h0M1426 882h0M1436 845h0M1406 821h0M1472 1539h0M1143 1596h0M1279 1548h0M1124 1495h0M1434 1761h0M1386 1863h0M1308 1604h0M1378 1416h0M1461 1532h0M1294 1453h0M1320 1669h0M1227 1602h0M1432 1839h0M1151 1439h0M1404 1505h0M1256 1555h0M1418 1434h0M1368 1701h0M1170 1583h0M1302 1528h0M1438 1528h0M1449 1819h0M1156 1404h0M1209 1530h0M1232 1372h0M1399 1473h0M1347 1403h0M1469 1491h0M1270 1628h0M1248 1389h0M1271 1504h0M1386 1574h0M1403 1466h0M1194 1609h0M1343 1337h0M1419 1552h0M1289 1782h0M1318 1347h0M1157 1419h0M1434 1617h0M1302 1344h0M1416 1636h0M1153 1561h0M1406 1655h0M1361 1784h0M1458 1462h0M1248 1653h0M1233 1518h0M1295 1657h0M1304 1596h0M1258 1776h0M1250 1351h0M1438 1459h0M1432 1411h0M942 1840h0M1143 1867h0M1164 2088h0M1105 1846h0M999 1911h0M1153 2069h0M1241 2013h0M1258 1798h0M1329 1814h0M1312 1998h0M1432 1903h0M1412 1951h0M1080 1881h0M1085 2073h0M1164 1989h0M1343 1911h0M1101 1923h0M956 1907h0M1232 1958h0M1143 1895h0M923 1828h0M1339 1867h0M1214 1794h0M941 1989h0M1402 1997h0M1375 1865h0M1136 1864h0M1305 2073h0M1211 1847h0M903 1961h0M893 2000h0M1340 1858h0M1262 1998h0M1057 1979h0M907 1941h0M1110 1865h0M963 1945h0M1263 1923h0M926 1928h0M1213 1800h0M1132 1992h0M1358 1992h0M1405 1916h0M1379 1874h0M951 2017h0M901 2040h0M1108 1805h0M1738 1622h0M1667 1498h0M1663 1624h0M1702 1569h0M1767 1433h0M1784 1411h0M1743 1436h0M1843 1245h0M1701 1676h0M1783 1431h0M1700 1478h0M1779 1264h0M1662 1505h0M1759 1431h0M1823 1253h0M1684 1485h0M1696 1619h0M1620 1561h0M1701 1622h0M1766 1272h0M2125 1229h0M2113 1393h0M1994 1688h0M1939 1705h0M1797 1790h0M2140 1122h0M1821 1864h0" stroke="#7a7a7a" stroke-opacity="0.02" stroke-width="23.2"/>
<path d="M948 942h0M869 765h0M1065 898h0M900 601h0M936 978h0M910 965h0M964 915h0M834 648h0M882 982h0M937 799h0M1028 988h0M901 761h0M819 695h0M941 665h0M1034 879h0M947 667h0M876 905h0M948 714h0M976 994h0M942 922h0M894 848h0M925 914h0M876 690h0M957 695h0M1002 936h0M958 1043h0M883 1122h0M989 1334h0M1012 1127h0M847 1338h0M1053 974h0M729 1305h0M1006 903h0M1105 1150h0M834 1179h0M821 1033h0M1049 1145h0M784 1098h0M911 1269h0M833 1317h0M931 852h0M1043 866h0M871 909h0M856 911h0M944 829h0M1111 1153h0M902 1170h0M779 1204h0M957 1349h0M1061 1253h0M1052 939h0M1067 879h0M836 931h0M920 1027h0M1036 1074h0M1001 881h0M1074 1075h0M797 1238h0M804 1291h0M716 1276h0M947 1271h0M938 1024h0M873 965h0M940 1094h0M753 1246h0M852 983h0M1020 956h0M908 1170h0M1074 848h0M985 1094h0M790 1366h0M941 1215h0M984 945h0M918 994h0M901 932h0M881 1158h0M1001 1179h0M931 841h0M978 914h0M879 1215h0M1001 1223h0M835 1094h0M1002 893h0M864 1180h0M884 1116h0M893 1054h0M936 974h0M804 1311h0M1012 1213h0M859 802h0M799 1138h0M1038 1282h0M849 1043h0M954 887h0M827 1327h0M927 1087h0M817 1578h0M886 1496h0M971 1440h0M863 1488h0M914 1526h0M955 1540h0M973 1523h0M995 1450h0M811 1556h0M861 1507h0M910 1455h0M952 1495h0M333 1078h0M360 1089h0M456 965h0M546 981h0M406 1088h0M465 1022h0M380 1156h0M365 1036h0M439 1111h0M387 1122h0M477 893h0M382 1267h0M1099 178h0M1106 139h0M1118 156h0M1139 217h0M1157 219h0M1233 465h0M1276 429h0M1231 392h0M1276 378h0M1205 683h0M1163 700h0M1164 448h0M1167 679h0M1189 436h0M1182 643h0M1196 647h0M1242 550h0M1192 683h0M1277 544h0M1214 616h0M628 520h0M1743 581h0M1660 368h0M1696 381h0M1779 617h0M1629 533h0M1575 1039h0M1733 929h0M1641 850h0M1447 1143h0M1301 845h0M1451 951h0M1370 1069h0M1709 922h0M1298 1053h0M1370 836h0M1508 899h0M1451 1062h0M1498 1086h0M1570 803h0M1471 822h0M1699 926h0M1595 856h0M1484 742h0M1289 821h0M1485 932h0M1364 853h0M1586 885h0M1348 1060h0M1354 1020h0M1266 794h0M1661 909h0M1411 1133h0M1252 909h0M1263 838h0M1679 1067h0M1705 882h0M1501 1025h0M1662 912h0M1695 1031h0M1532 913h0M1543 1169h0M1602 910h0M1386 999h0M1681 1125h0M1592 1052h0M1269 811h0M1687 968h0M1747 951h0M1692 947h0M1479 767h0M1649 1097h0M1313 946h0M1246 854h0M1552 980h0M1377 900h0M1554 875h0M1387 829h0M1547 821h0M1612 1083h0M1318 1640h0M1384 1398h0M1386 1828h0M1387 1569h0M1192 1576h0M1480 1482h0M1167 1565h0M1205 1460h0M1301 1801h0M1374 1818h0M1501 1528h0M1326 1693h0M1217 1531h0M1450 1522h0M1355 1507h0M1253 1606h0M1224 1442h0M1338 1492h0M1384 1804h0M1209 1512h0M1285 1394h0M1322 1802h0M1332 1612h0M1311 1664h0M1272 1469h0M1205 1522h0M1121 1546h0M1186 1403h0M1272 1471h0M1132 1592h0M1331 1443h0M1430 1564h0M1386 1699h0M1285 1554h0M1422 1529h0M1274 1422h0M1184 1421h0M1409 1392h0M1275 1388h0M1436 1779h0M1298 1670h0M1234 1747h0M1352 1444h0M1484 1501h0M1471 1541h0M1139 1586h0M1492 1549h0M1322 1315h0M1447 1834h0M1380 1844h0M1380 1440h0M1214 1611h0M1281 1387h0M1175 1549h0M1093 1812h0M1140 1932h0M1101 1844h0M1357 1864h0M1235 1967h0M1358 1942h0M930 1986h0M1195 1828h0M1201 2021h0M1198 1887h0M1000 1941h0M1429 1918h0M1089 1826h0M1323 2046h0M1132 2065h0M1189 2061h0M1002 1863h0M1160 1963h0M907 1902h0M953 2035h0M1075 2052h0M1377 2002h0M1174 1790h0M1215 1925h0M1280 2034h0M1144 2033h0M1441 1946h0M923 1994h0M998 1857h0M885 1850h0M1418 1911h0M1215 1873h0M1069 1941h0M1153 1839h0M926 1962h0M1316 1877h0M1205 1852h0M973 1958h0M1205 2023h0M1144 1860h0M1190 1790h0M1018 1952h0M1319 1943h0M1361 1873h0M1338 1954h0M1062 1994h0M1053 1934h0M1302 2015h0M958 1968h0M916 1956h0M1190 1801h0M1369 1930h0M1834 1297h0M1795 1378h0M1780 1272h0M1801 1454h0M1686 1654h0M1851 1301h0M1657 1573h0M1739 1378h0M1796 1408h0M1853 1350h0M1762 1480h0M1687 1590h0M1815 1360h0M1777 1507h0M1849 1230h0M1773 1283h0M2070 973h0M2149 1296h0M2005 1540h0M2030 1687h0" stroke="#7a7a7a" stroke-opacity="0.02" stroke-width="23.2"/>
<path d="M962 938h0M919 753h0M1004 946h0M995 850h0M1018 894h0M900 933h0M976 849h0M947 730h0M954 974h0M1030 990h0M1006 906h0M973 988h0M988 944h0M964 718h0M895 758h0M915 743h0M903 657h0M858 851h0M910 904h0M985 781h0M908 636h0M937 897h0M958 694h0M972 834h0M966 1035h0M901 961h0M915 790h0M1049 1083h0M950 1014h0M916 1088h0M925 844h0M960 817h0M988 998h0M1036 889h0M837 928h0M762 1179h0M777 1206h0M1081 1159h0M945 1151h0M1067 1013h0M903 789h0M1039 929h0M796 1137h0M838 812h0M982 852h0M1087 1100h0M866 1129h0M731 1276h0M973 812h0M878 927h0M967 963h0M1074 1097h0M838 1051h0M871 1014h0M1032 802h0M988 1329h0M1016 1002h0M796 1166h0M1016 1114h0M964 1184h0M986 1298h0M981 1095h0M959 1056h0M975 894h0M1009 948h0M953 850h0M1029 867h0M808 1315h0M980 1009h0M934 1029h0M946 1345h0M1093 1124h0M847 880h0M972 1098h0M741 1321h0M977 1118h0M1050 1170h0M863 981h0M1056 954h0M963 974h0M787 1243h0M782 1315h0M976 848h0M1067 1098h0M895 1571h0M879 1538h0M976 1509h0M847 1548h0M877 1494h0M859 1462h0M811 1502h0M949 1531h0M973 1421h0M814 1560h0M978 1474h0M478 908h0M465 1055h0M394 1050h0M484 925h0M460 902h0M512 981h0M479 1036h0M368 1036h0M411 1065h0M494 958h0M479 1057h0M415 1121h0M556 931h0M385 1071h0M502 962h0M339 1052h0M489 908h0M371 1221h0M1080 139h0M1243 243h0M1319 284h0M1375 278h0M1292 291h0M1343 310h0M1175 540h0M1202 417h0M1154 696h0M1211 670h0M1189 531h0M1185 411h0M1302 449h0M1269 396h0M1220 602h0M1221 523h0M1190 720h0M1167 615h0M1203 552h0M1338 336h0M1177 731h0M637 574h0M626 573h0M1594 445h0M1682 468h0M1657 489h0M1633 412h0M1633 412h0M1594 353h0M1731 528h0M1745 442h0M1711 418h0M1652 354h0M1649 462h0M1704 433h0M1604 549h0M1685 554h0M1511 1166h0M1685 937h0M1557 1112h0M1605 835h0M1687 926h0M1545 1190h0M1658 1010h0M1560 1008h0M1367 882h0M1524 887h0M1604 953h0M1384 1018h0M1386 1104h0M1407 1052h0M1602 888h0M1415 989h0M1306 979h0M1232 879h0M1601 855h0M1513 826h0M1401 1048h0M1297 828h0M1323 1022h0M1524 979h0M1494 1129h0M1605 1152h0M1494 929h0M1386 945h0M1455 767h0M1437 766h0M1297 841h0M1737 985h0M1400 844h0M1490 830h0M1313 929h0M1570 1055h0M1287 801h0M1459 787h0M1577 878h0M1693 974h0M1340 964h0M1325 1066h0M1702 1092h0M1433 929h0M1544 863h0M1448 737h0M1500 1136h0M1379 752h0M1597 899h0M1457 1025h0M1600 907h0M1399 899h0M1376 767h0M1417 1032h0M1725 985h0M1232 1428h0M1441 1757h0M1186 1409h0M1387 1783h0M1492 1577h0M1338 1800h0M1171 1364h0M1165 1582h0M1192 1400h0M1249 1369h0M1340 1738h0M1180 1392h0M1410 1779h0M1297 1792h0M1360 1547h0M1482 1485h0M1481 1522h0M1421 1512h0M1386 1651h0M1316 1560h0M1193 1575h0M1339 1802h0M1134 1588h0M1336 1350h0M1284 1635h0M1452 1826h0M1408 1776h0M1165 1418h0M1171 1409h0M1307 1375h0M1344 1735h0M1397 1450h0M1394 1388h0M1449 1723h0M1176 1593h0M1215 1546h0M1218 1390h0M1356 1503h0M1198 1409h0M1334 1651h0M1471 1517h0M1434 1726h0M1282 1688h0M1317 1378h0M1131 1521h0M1294 1397h0M1262 1737h0M1206 1743h0M1414 1641h0M1268 1359h0M1287 1492h0M1236 1397h0M1147 1423h0M1062 1848h0M1311 1927h0M864 1955h0M1119 1945h0M1031 1974h0M1474 2011h0M953 2025h0M1251 1877h0M1336 1892h0M1421 1875h0M1307 2059h0M1301 1871h0M1163 2016h0M1145 1983h0M1311 1919h0M1455 1945h0M1251 1785h0M1434 1893h0M1118 2038h0M1354 1989h0M1288 1993h0M1305 1957h0M1258 1942h0M873 1900h0M955 2040h0M1356 1937h0M1154 1819h0M1171 1812h0M908 1922h0M1017 2003h0M1397 1859h0M916 1868h0M1278 1852h0M1135 1866h0M1355 1835h0M1064 2025h0M1686 1487h0M1680 1554h0M1771 1468h0M1695 1683h0M1659 1503h0M1818 1293h0M1828 1358h0M1707 1625h0M1840 1332h0M1711 1359h0M1690 1552h0M1839 1322h0M1714 1487h0M1763 1370h0M1746 1394h0M1840 1354h0M1684 1494h0M1854 1259h0M1635 1591h0M1736 1579h0M2088 1069h0M2114 1193h0M2092 1415h0M2075 1468h0M2015 1635h0" stroke="#7a7a7a" stroke-opacity="0.02" stroke-width="23.2"/>
<circle cx="1160.9" cy="949.4" r="10.4" fill="#7f7f7f" fill-opacity="0.1" stroke="#7f7f7f" stroke-opacity="0.1" stroke-width="2.9"/>
<circle cx="2008.9" cy="843.1" r="10.4" fill="#7f7f7f" fill-opacity="0.14" stroke="#7f7f7f" stroke-opacity="0.14" stroke-width="2.9"/>
<circle cx="1465.0" cy="1227.6" r="10.4" fill="#7f7f7f" fill-opacity="0.04" stroke="#7f7f7f" stroke-opacity="0.04" stroke-width="2.9"/>
<circle cx="1508.0" cy="1227.6" r="10.4" fill="#7f7f7f" fill-opacity="0.03" stroke="#7f7f7f" stroke-opacity="0.03" stroke-width="2.9"/>
<circle cx="1540.0" cy="1526.0" r="10.4" fill="#7f7f7f" fill-opacity="0.06" stroke="#7f7f7f" stroke-opacity="0.06" stroke-width="2.9"/>
<circle cx="2033.0" cy="1688.0" r="10.4" fill="#7f7f7f" fill-opacity="0.06" stroke="#7f7f7f" stroke-opacity="0.06" stroke-width="2.9"/>
</g></g>
<g clip-path="url(#pc)">
<g fill="#7F7F7F" stroke="#7F7F7F" stroke-width="2.9">
<circle cx="1582.9" cy="267.3" r="8" fill-opacity="0.70" stroke-opacity="0.70"/>
<circle cx="1578.3" cy="290.1" r="8" fill-opacity="0.55" stroke-opacity="0.55"/>
<circle cx="1597.0" cy="293.3" r="8" fill-opacity="0.25" stroke-opacity="0.25"/>
<circle cx="1596.5" cy="299.8" r="8" fill-opacity="0.60" stroke-opacity="0.60"/>
<circle cx="1580.7" cy="310.9" r="8" fill-opacity="0.65" stroke-opacity="0.65"/>
<circle cx="1617.4" cy="316.1" r="8" fill-opacity="0.45" stroke-opacity="0.45"/>
<circle cx="1675.9" cy="366.9" r="8" fill-opacity="0.15" stroke-opacity="0.15"/>
<circle cx="1694.4" cy="467.3" r="8" fill-opacity="0.40" stroke-opacity="0.40"/>
<circle cx="1735.1" cy="489.0" r="8" fill-opacity="0.40" stroke-opacity="0.40"/>
<circle cx="2029.9" cy="915.8" r="8" fill-opacity="0.65" stroke-opacity="0.65"/>
<circle cx="2058.5" cy="956.6" r="8" fill-opacity="0.55" stroke-opacity="0.55"/>
<circle cx="2063.7" cy="973.5" r="8" fill-opacity="0.60" stroke-opacity="0.60"/>
<circle cx="1666.0" cy="566.8" r="8" fill-opacity="0.35" stroke-opacity="0.35"/>
<circle cx="1712.9" cy="573.7" r="8" fill-opacity="0.35" stroke-opacity="0.35"/>
<circle cx="1779.2" cy="589.0" r="8" fill-opacity="0.30" stroke-opacity="0.30"/>
</g>
<g fill="#E377C2" stroke="#E377C2" stroke-width="2.9">
<circle cx="2075.2" cy="1044.0" r="8" fill-opacity="0.45" stroke-opacity="0.45"/>
<circle cx="2098.4" cy="1082.0" r="8" fill-opacity="0.70" stroke-opacity="0.70"/>
<circle cx="2122.1" cy="1187.4" r="8" fill-opacity="0.70" stroke-opacity="0.70"/>
<circle cx="2128.2" cy="1315.4" r="8" fill-opacity="0.85" stroke-opacity="0.85"/>
<circle cx="2127.7" cy="1329.3" r="8" fill-opacity="0.85" stroke-opacity="0.85"/>
<circle cx="2131.6" cy="1383.8" r="8" fill-opacity="0.30" stroke-opacity="0.30"/>
<circle cx="2105.6" cy="1398.0" r="8" fill-opacity="0.72" stroke-opacity="0.72"/>
<circle cx="2122.3" cy="1399.0" r="8" fill-opacity="0.40" stroke-opacity="0.40"/>
<circle cx="2117.6" cy="1407.1" r="8" fill-opacity="0.45" stroke-opacity="0.45"/>
<circle cx="2112.9" cy="1415.5" r="8" fill-opacity="0.60" stroke-opacity="0.60"/>
<circle cx="2101.7" cy="1442.7" r="8" fill-opacity="0.30" stroke-opacity="0.30"/>
<circle cx="2099.9" cy="1447.3" r="8" fill-opacity="0.40" stroke-opacity="0.40"/>
<circle cx="2097.1" cy="1452.9" r="8" fill-opacity="0.35" stroke-opacity="0.35"/>
<circle cx="2093.0" cy="1472.0" r="8" fill-opacity="0.50" stroke-opacity="0.50"/>
<circle cx="2082.2" cy="1491.5" r="8" fill-opacity="0.95" stroke-opacity="0.95"/>
<circle cx="2071.1" cy="1504.8" r="8" fill-opacity="0.50" stroke-opacity="0.50"/>
<circle cx="2072.0" cy="1520.6" r="8" fill-opacity="0.60" stroke-opacity="0.60"/>
<circle cx="2067.4" cy="1526.2" r="8" fill-opacity="0.50" stroke-opacity="0.50"/>
<circle cx="2034.5" cy="1511.7" r="8" fill-opacity="0.85" stroke-opacity="0.85"/>
<circle cx="2027.5" cy="1530.8" r="8" fill-opacity="0.55" stroke-opacity="0.55"/>
<circle cx="2050.4" cy="1562.5" r="8" fill-opacity="0.47" stroke-opacity="0.47"/>
<circle cx="2041.4" cy="1575.7" r="8" fill-opacity="0.30" stroke-opacity="0.30"/>
<circle cx="2029.8" cy="1582.1" r="8" fill-opacity="0.82" stroke-opacity="0.82"/>
<circle cx="2060.1" cy="1584.6" r="8" fill-opacity="0.50" stroke-opacity="0.50"/>
<circle cx="2045.6" cy="1587.6" r="8" fill-opacity="0.72" stroke-opacity="0.72"/>
<circle cx="2055.3" cy="1593.0" r="8" fill-opacity="0.75" stroke-opacity="0.75"/>
<circle cx="2062.3" cy="1598.2" r="8" fill-opacity="0.72" stroke-opacity="0.72"/>
<circle cx="2036.6" cy="1597.2" r="8" fill-opacity="0.72" stroke-opacity="0.72"/>
<circle cx="2025.4" cy="1603.5" r="8" fill-opacity="0.82" stroke-opacity="0.82"/>
<circle cx="2033.3" cy="1604.8" r="8" fill-opacity="0.75" stroke-opacity="0.75"/>
<circle cx="2044.7" cy="1605.2" r="8" fill-opacity="0.30" stroke-opacity="0.30"/>
<circle cx="2002.4" cy="1618.9" r="8" fill-opacity="0.50" stroke-opacity="0.50"/>
<circle cx="2019.1" cy="1617.1" r="8" fill-opacity="0.50" stroke-opacity="0.50"/>
<circle cx="2039.5" cy="1622.6" r="8" fill-opacity="0.50" stroke-opacity="0.50"/>
<circle cx="2008.0" cy="1630.1" r="8" fill-opacity="0.40" stroke-opacity="0.40"/>
<circle cx="2050.7" cy="1631.9" r="8" fill-opacity="0.40" stroke-opacity="0.40"/>
<circle cx="2047.0" cy="1643.0" r="8" fill-opacity="0.50" stroke-opacity="0.50"/>
<circle cx="2054.4" cy="1648.6" r="8" fill-opacity="0.50" stroke-opacity="0.50"/>
<circle cx="2037.7" cy="1659.7" r="8" fill-opacity="0.50" stroke-opacity="0.50"/>
<circle cx="2056.3" cy="1659.7" r="8" fill-opacity="0.40" stroke-opacity="0.40"/>
<circle cx="2019.1" cy="1669.0" r="8" fill-opacity="0.60" stroke-opacity="0.60"/>
<circle cx="1983.9" cy="1667.2" r="8" fill-opacity="0.50" stroke-opacity="0.50"/>
<circle cx="1996.9" cy="1669.0" r="8" fill-opacity="0.50" stroke-opacity="0.50"/>
<circle cx="1983.9" cy="1682.0" r="8" fill-opacity="0.70" stroke-opacity="0.70"/>
<circle cx="1974.6" cy="1683.9" r="8" fill-opacity="0.70" stroke-opacity="0.70"/>
<circle cx="1961.6" cy="1690.4" r="8" fill-opacity="0.80" stroke-opacity="0.80"/>
<circle cx="1961.6" cy="1696.8" r="8" fill-opacity="0.70" stroke-opacity="0.70"/>
<circle cx="1881.8" cy="1675.6" r="8" fill-opacity="0.95" stroke-opacity="0.95"/>
<circle cx="1882.4" cy="1676.2" r="8" fill-opacity="0.60" stroke-opacity="0.60"/>
<circle cx="1772.4" cy="1790.3" r="8" fill-opacity="0.50" stroke-opacity="0.50"/>
<circle cx="1767.7" cy="1833.9" r="8" fill-opacity="0.50" stroke-opacity="0.50"/>
<circle cx="1799.3" cy="1807.0" r="8" fill-opacity="0.55" stroke-opacity="0.55"/>
<circle cx="1807.6" cy="1812.5" r="8" fill-opacity="0.60" stroke-opacity="0.60"/>
<circle cx="1808.5" cy="1830.2" r="8" fill-opacity="0.50" stroke-opacity="0.50"/>
<circle cx="1820.6" cy="1800.5" r="8" fill-opacity="0.40" stroke-opacity="0.40"/>
<circle cx="1828.0" cy="1805.1" r="8" fill-opacity="0.60" stroke-opacity="0.60"/>
<circle cx="1822.4" cy="1820.0" r="8" fill-opacity="0.50" stroke-opacity="0.50"/>
<circle cx="1837.3" cy="1806.0" r="8" fill-opacity="0.60" stroke-opacity="0.60"/>
<circle cx="1829.9" cy="1820.9" r="8" fill-opacity="0.50" stroke-opacity="0.50"/>
<circle cx="1838.2" cy="1821.8" r="8" fill-opacity="0.50" stroke-opacity="0.50"/>
<circle cx="1843.8" cy="1810.7" r="8" fill-opacity="0.60" stroke-opacity="0.60"/>
<circle cx="1827.6" cy="1840.0" r="8" fill-opacity="0.40" stroke-opacity="0.40"/>
<circle cx="1846.6" cy="1769.9" r="8" fill-opacity="0.50" stroke-opacity="0.50"/>
<circle cx="1850.3" cy="1781.0" r="8" fill-opacity="0.50" stroke-opacity="0.50"/>
<circle cx="1844.7" cy="1786.6" r="8" fill-opacity="0.40" stroke-opacity="0.40"/>
<circle cx="1852.1" cy="1790.3" r="8" fill-opacity="0.50" stroke-opacity="0.50"/>
<circle cx="1857.7" cy="1795.8" r="8" fill-opacity="0.70" stroke-opacity="0.70"/>
<circle cx="1863.3" cy="1797.7" r="8" fill-opacity="0.50" stroke-opacity="0.50"/>
<circle cx="1858.6" cy="1802.3" r="8" fill-opacity="0.50" stroke-opacity="0.50"/>
<circle cx="1868.5" cy="1783.2" r="8" fill-opacity="0.55" stroke-opacity="0.55"/>
<circle cx="1869.8" cy="1764.3" r="8" fill-opacity="0.70" stroke-opacity="0.70"/>
<circle cx="1877.2" cy="1755.0" r="8" fill-opacity="0.30" stroke-opacity="0.30"/>
<circle cx="1879.0" cy="1761.5" r="8" fill-opacity="0.70" stroke-opacity="0.70"/>
<circle cx="1886.5" cy="1767.1" r="8" fill-opacity="0.50" stroke-opacity="0.50"/>
<circle cx="1889.2" cy="1759.7" r="8" fill-opacity="0.80" stroke-opacity="0.80"/>
<circle cx="1894.8" cy="1758.7" r="8" fill-opacity="0.70" stroke-opacity="0.70"/>
<circle cx="1856.8" cy="1828.7" r="8" fill-opacity="0.60" stroke-opacity="0.60"/>
<circle cx="1870.7" cy="1831.1" r="8" fill-opacity="0.70" stroke-opacity="0.70"/>
<circle cx="1877.6" cy="1831.7" r="8" fill-opacity="0.80" stroke-opacity="0.80"/>
<circle cx="1882.7" cy="1815.3" r="8" fill-opacity="0.90" stroke-opacity="0.90"/>
<circle cx="1896.3" cy="1797.7" r="8" fill-opacity="0.60" stroke-opacity="0.60"/>
<circle cx="1905.9" cy="1801.4" r="8" fill-opacity="0.60" stroke-opacity="0.60"/>
<circle cx="1919.9" cy="1800.5" r="8" fill-opacity="0.55" stroke-opacity="0.55"/>
<circle cx="1918.9" cy="1766.2" r="8" fill-opacity="0.60" stroke-opacity="0.60"/>
<circle cx="1917.1" cy="1769.9" r="8" fill-opacity="0.60" stroke-opacity="0.60"/>
<circle cx="1921.7" cy="1738.3" r="8" fill-opacity="0.55" stroke-opacity="0.55"/>
<circle cx="1948.6" cy="1738.3" r="8" fill-opacity="0.40" stroke-opacity="0.40"/>
<circle cx="1949.5" cy="1730.9" r="8" fill-opacity="0.50" stroke-opacity="0.50"/>
<circle cx="1939.3" cy="1726.3" r="8" fill-opacity="0.50" stroke-opacity="0.50"/>
<circle cx="1925.4" cy="1720.7" r="8" fill-opacity="0.80" stroke-opacity="0.80"/>
<circle cx="1918.9" cy="1723.5" r="8" fill-opacity="0.70" stroke-opacity="0.70"/>
<circle cx="1913.4" cy="1723.5" r="8" fill-opacity="0.40" stroke-opacity="0.40"/>
<circle cx="1936.5" cy="1717.9" r="8" fill-opacity="0.50" stroke-opacity="0.50"/>
<circle cx="1944.9" cy="1714.2" r="8" fill-opacity="0.60" stroke-opacity="0.60"/>
<circle cx="1950.5" cy="1710.5" r="8" fill-opacity="0.50" stroke-opacity="0.50"/>
<circle cx="1959.7" cy="1701.2" r="8" fill-opacity="0.50" stroke-opacity="0.50"/>
<circle cx="1961.6" cy="1690.1" r="8" fill-opacity="0.80" stroke-opacity="0.80"/>
<circle cx="1964.4" cy="1693.8" r="8" fill-opacity="0.70" stroke-opacity="0.70"/>
<circle cx="1972.7" cy="1684.5" r="8" fill-opacity="0.60" stroke-opacity="0.60"/>
<circle cx="1980.1" cy="1681.7" r="8" fill-opacity="0.60" stroke-opacity="0.60"/>
<circle cx="1985.7" cy="1682.3" r="8" fill-opacity="0.60" stroke-opacity="0.60"/>
<circle cx="1996.8" cy="1667.8" r="8" fill-opacity="0.50" stroke-opacity="0.50"/>
<circle cx="2019.1" cy="1667.8" r="8" fill-opacity="0.50" stroke-opacity="0.50"/>
<circle cx="1982.0" cy="1666.0" r="8" fill-opacity="0.50" stroke-opacity="0.50"/>
<circle cx="2039.5" cy="1658.6" r="8" fill-opacity="0.50" stroke-opacity="0.50"/>
<circle cx="2056.2" cy="1654.8" r="8" fill-opacity="0.50" stroke-opacity="0.50"/>
</g>
<g fill="#8C564B" stroke="#8C564B" stroke-width="2.9">
<circle cx="1798.2" cy="1275.4" r="8" fill-opacity="0.60" stroke-opacity="0.60"/>
<circle cx="1878.9" cy="1284.6" r="8" fill-opacity="0.80" stroke-opacity="0.80"/>
<circle cx="1802.9" cy="1334.3" r="8" fill-opacity="0.60" stroke-opacity="0.60"/>
<circle cx="1860.9" cy="1377.9" r="8" fill-opacity="0.15" stroke-opacity="0.15"/>
<circle cx="1787.6" cy="1415.9" r="8" fill-opacity="0.30" stroke-opacity="0.30"/>
<circle cx="1718.9" cy="1437.7" r="8" fill-opacity="0.45" stroke-opacity="0.45"/>
<circle cx="1746.3" cy="1563.5" r="8" fill-opacity="0.65" stroke-opacity="0.65"/>
<circle cx="1726.8" cy="1569.9" r="8" fill-opacity="0.55" stroke-opacity="0.55"/>
<circle cx="1680.4" cy="1592.6" r="8" fill-opacity="0.70" stroke-opacity="0.70"/>
<circle cx="1710.1" cy="1616.7" r="8" fill-opacity="0.55" stroke-opacity="0.55"/>
<circle cx="1644.7" cy="1694.2" r="8" fill-opacity="0.75" stroke-opacity="0.75"/>
<circle cx="1676.3" cy="1713.7" r="8" fill-opacity="0.80" stroke-opacity="0.80"/>
<circle cx="1735.3" cy="1736.5" r="8" fill-opacity="0.40" stroke-opacity="0.40"/>
<circle cx="1735.3" cy="1743.9" r="8" fill-opacity="0.60" stroke-opacity="0.60"/>
<circle cx="1753.8" cy="1767.1" r="8" fill-opacity="0.35" stroke-opacity="0.35"/>
<circle cx="1776.1" cy="1770.8" r="8" fill-opacity="0.15" stroke-opacity="0.15"/>
<circle cx="1779.4" cy="1781.4" r="8" fill-opacity="0.80" stroke-opacity="0.80"/>
<circle cx="1805.4" cy="1781.0" r="8" fill-opacity="0.50" stroke-opacity="0.50"/>
<circle cx="1828.0" cy="1777.7" r="8" fill-opacity="0.15" stroke-opacity="0.15"/>
<circle cx="1854.0" cy="1768.0" r="8" fill-opacity="0.20" stroke-opacity="0.20"/>
</g>
<g fill="#D62728" stroke="#D62728" stroke-width="2.9">
<circle cx="1173.5" cy="204.1" r="8" fill-opacity="0.60" stroke-opacity="0.60"/>
<circle cx="1255.6" cy="262.1" r="8" fill-opacity="0.65" stroke-opacity="0.65"/>
<circle cx="1200.4" cy="787.5" r="8" fill-opacity="0.97" stroke-opacity="0.97"/>
<circle cx="1361.3" cy="812.9" r="8" fill-opacity="0.60" stroke-opacity="0.60"/>
<circle cx="1475.9" cy="831.0" r="8" fill-opacity="0.70" stroke-opacity="0.70"/>
<circle cx="1543.6" cy="845.9" r="8" fill-opacity="0.70" stroke-opacity="0.70"/>
<circle cx="1557.5" cy="880.6" r="8" fill-opacity="0.75" stroke-opacity="0.75"/>
<circle cx="1552.4" cy="949.8" r="8" fill-opacity="0.70" stroke-opacity="0.70"/>
<circle cx="1751.4" cy="988.3" r="8" fill-opacity="0.65" stroke-opacity="0.65"/>
<circle cx="1391.0" cy="1015.2" r="8" fill-opacity="0.70" stroke-opacity="0.70"/>
<circle cx="1325.6" cy="1062.0" r="8" fill-opacity="0.95" stroke-opacity="0.95"/>
<circle cx="1407.2" cy="1085.2" r="8" fill-opacity="0.90" stroke-opacity="0.90"/>
<circle cx="1518.1" cy="1089.4" r="8" fill-opacity="0.90" stroke-opacity="0.90"/>
<circle cx="1704.5" cy="1063.4" r="8" fill-opacity="0.80" stroke-opacity="0.80"/>
</g>
<g fill="#FF7F0E" stroke="#FF7F0E" stroke-width="2.9">
<circle cx="967.5" cy="713.8" r="8" fill-opacity="0.80" stroke-opacity="0.80"/>
<circle cx="824.7" cy="1004.5" r="8" fill-opacity="0.70" stroke-opacity="0.70"/>
<circle cx="834.0" cy="1015.6" r="8" fill-opacity="0.80" stroke-opacity="0.80"/>
<circle cx="827.9" cy="1021.2" r="8" fill-opacity="0.80" stroke-opacity="0.80"/>
<circle cx="812.2" cy="1036.5" r="8" fill-opacity="0.80" stroke-opacity="0.80"/>
<circle cx="895.6" cy="1024.9" r="8" fill-opacity="0.75" stroke-opacity="0.75"/>
<circle cx="883.6" cy="1204.4" r="8" fill-opacity="0.70" stroke-opacity="0.70"/>
<circle cx="910.9" cy="1238.7" r="8" fill-opacity="0.65" stroke-opacity="0.65"/>
<circle cx="1074.7" cy="1236.4" r="8" fill-opacity="0.90" stroke-opacity="0.90"/>
<circle cx="769.9" cy="1320.4" r="8" fill-opacity="0.70" stroke-opacity="0.70"/>
<circle cx="837.2" cy="1434.9" r="8" fill-opacity="0.85" stroke-opacity="0.85"/>
<circle cx="802.4" cy="1521.2" r="8" fill-opacity="0.60" stroke-opacity="0.60"/>
<circle cx="833.5" cy="1523.5" r="8" fill-opacity="0.60" stroke-opacity="0.60"/>
<circle cx="834.9" cy="1515.2" r="8" fill-opacity="0.50" stroke-opacity="0.50"/>
<circle cx="845.5" cy="1511.9" r="8" fill-opacity="0.80" stroke-opacity="0.80"/>
<circle cx="889.1" cy="1516.5" r="8" fill-opacity="0.85" stroke-opacity="0.85"/>
<circle cx="902.1" cy="1532.3" r="8" fill-opacity="0.90" stroke-opacity="0.90"/>
<circle cx="943.0" cy="1525.4" r="8" fill-opacity="0.90" stroke-opacity="0.90"/>
</g>
<g fill="#1F77B4" stroke="#1F77B4" stroke-width="2.9">
<circle cx="1198.1" cy="1346.8" r="8" fill-opacity="0.30" stroke-opacity="0.30"/>
<circle cx="1248.1" cy="1351.4" r="8" fill-opacity="0.40" stroke-opacity="0.40"/>
<circle cx="1260.7" cy="1338.0" r="8" fill-opacity="0.70" stroke-opacity="0.70"/>
<circle cx="1419.8" cy="1393.6" r="8" fill-opacity="0.70" stroke-opacity="0.70"/>
<circle cx="1287.1" cy="1480.8" r="8" fill-opacity="0.60" stroke-opacity="0.60"/>
<circle cx="1444.8" cy="1540.2" r="8" fill-opacity="0.80" stroke-opacity="0.80"/>
<circle cx="1376.2" cy="1626.0" r="8" fill-opacity="0.80" stroke-opacity="0.80"/>
<circle cx="1179.0" cy="1822.2" r="8" fill-opacity="0.85" stroke-opacity="0.85"/>
</g>
<g fill="#2CA02C" stroke="#2CA02C" stroke-width="2.9">
<circle cx="430.9" cy="1124.2" r="8" fill-opacity="0.70" stroke-opacity="0.70"/>
</g>
<g fill="#9467BD" stroke="#9467BD" stroke-width="2.9">
<circle cx="609.9" cy="490.3" r="8" fill-opacity="0.70" stroke-opacity="0.70"/>
</g>
</g>
<g>
<line x1="629.4" y1="555.7" x2="601.6" y2="587.2" stroke="#9467BD" stroke-opacity="0.72" stroke-width="4" stroke-linecap="round"/>
<line x1="1684.1" y1="527.8" x2="1657.7" y2="559.8" stroke="#7F7F7F" stroke-opacity="0.72" stroke-width="4" stroke-linecap="round"/>
<line x1="1417.4" y1="836.1" x2="1390.1" y2="867.2" stroke="#D62728" stroke-opacity="0.72" stroke-width="4" stroke-linecap="round"/>
<line x1="448.5" y1="993.4" x2="421.2" y2="1024.4" stroke="#2CA02C" stroke-opacity="0.72" stroke-width="4" stroke-linecap="round"/>
<line x1="932.3" y1="1126.0" x2="905.8" y2="1158.0" stroke="#FF7F0E" stroke-opacity="0.72" stroke-width="4" stroke-linecap="round"/>
<line x1="1710.1" y1="1470.2" x2="1737.9" y2="1501.2" stroke="#8C564B" stroke-opacity="0.72" stroke-width="4" stroke-linecap="round"/>
<line x1="1292.2" y1="1739.2" x2="1265.3" y2="1770.3" stroke="#1F77B4" stroke-opacity="0.72" stroke-width="4" stroke-linecap="round"/>
<rect x="400.7" y="587.2" width="336.8" height="62.2" rx="6" ry="6" fill="#fff" fill-opacity="0.66" stroke="#9467BD" stroke-opacity="0.72" stroke-width="2"/>
<text class="lb" x="569.7" y="634.4" text-anchor="middle" style="fill:#9467BD" fill-opacity="0.72">SmoothMuscle</text>
<rect x="1451.3" y="559.8" width="345.5" height="61.7" rx="6" ry="6" fill="#fff" fill-opacity="0.66" stroke="#7F7F7F" stroke-opacity="0.72" stroke-width="2"/>
<text class="lb" x="1624.6" y="607.0" text-anchor="middle" style="fill:#7F7F7F" fill-opacity="0.72">Spermatogonia</text>
<rect x="1369.2" y="774.1" width="161.4" height="62.0" rx="6" ry="6" fill="#fff" fill-opacity="0.66" stroke="#D62728" stroke-opacity="0.72" stroke-width="2"/>
<text class="lb" x="1450.5" y="821.3" text-anchor="middle" style="fill:#D62728" fill-opacity="0.72">Sertoli</text>
<rect x="336.7" y="930.7" width="289.0" height="62.7" rx="6" ry="6" fill="#fff" fill-opacity="0.66" stroke="#2CA02C" stroke-opacity="0.72" stroke-width="2"/>
<text class="lb" x="481.8" y="977.9" text-anchor="middle" style="fill:#2CA02C" fill-opacity="0.72">Macrophage</text>
<rect x="813.1" y="1064.3" width="306.1" height="61.7" rx="6" ry="6" fill="#fff" fill-opacity="0.66" stroke="#FF7F0E" stroke-opacity="0.72" stroke-width="2"/>
<text class="lb" x="966.8" y="1111.5" text-anchor="middle" style="fill:#FF7F0E" fill-opacity="0.72">Leydig-Myoid</text>
<rect x="1557.5" y="1408.0" width="241.2" height="62.2" rx="6" ry="6" fill="#fff" fill-opacity="0.66" stroke="#8C564B" stroke-opacity="0.72" stroke-width="2"/>
<text class="lb" x="1678.7" y="1455.2" text-anchor="middle" style="fill:#8C564B" fill-opacity="0.72">Spermatid</text>
<rect x="1195.3" y="1677.0" width="260.6" height="62.2" rx="6" ry="6" fill="#fff" fill-opacity="0.66" stroke="#1F77B4" stroke-opacity="0.72" stroke-width="2"/>
<text class="lb" x="1326.2" y="1724.2" text-anchor="middle" style="fill:#1F77B4" fill-opacity="0.72">Endothelial</text>
<rect x="1917.7" y="1610.2" width="316.7" height="62.5" rx="6" ry="6" fill="#fff" fill-opacity="0.66" stroke="#E377C2" stroke-opacity="0.72" stroke-width="2"/>
<text class="lb" x="2076.7" y="1657.4" text-anchor="middle" style="fill:#E377C2" fill-opacity="0.72">Spermatocyte</text>
</g>
<rect x="202.8" y="23.8" width="2059.9" height="2170.5" fill="none" stroke="#000" stroke-width="2.3"/>
<text class="tk" transform="translate(181.2,109.8) scale(1.027,1)" text-anchor="end">50</text>
<text class="tk" transform="translate(181.2,662.0) scale(1.027,1)" text-anchor="end">25</text>
<text class="tk" transform="translate(181.2,1214.2) scale(1.027,1)" text-anchor="end">0</text>
<text class="tk" transform="translate(181.2,1766.4) scale(1.027,1)" text-anchor="end">-25</text>
<text class="tk" transform="translate(726.6,2278.3) scale(1.027,1)" text-anchor="middle">-30</text>
<text class="tk" transform="translate(1271.1,2278.3) scale(1.027,1)" text-anchor="middle">0</text>
<text class="tk" transform="translate(1815.6,2278.3) scale(1.027,1)" text-anchor="middle">30</text>
<text class="tt" x="1232.8" y="2359.5" text-anchor="middle">tSNE_1</text>
<text class="tt" transform="translate(59.6,1108.6) rotate(-90)" text-anchor="middle">tSNE_2</text>
<text class="lt" x="2332" y="344.2">Cluster</text>
<circle cx="2385.4" cy="425.3" r="8" fill="#1F77B4" stroke="#1F77B4" stroke-width="2.9"/>
<text class="lg" x="2464" y="449.9">Endothelial</text>
<circle cx="2385.4" cy="531.7" r="8" fill="#FF7F0E" stroke="#FF7F0E" stroke-width="2.9"/>
<text class="lg" x="2464" y="556.3">Leydig-Myoid</text>
<circle cx="2385.4" cy="638.1" r="8" fill="#2CA02C" stroke="#2CA02C" stroke-width="2.9"/>
<text class="lg" x="2464" y="662.7">Macrophage</text>
<circle cx="2385.4" cy="744.5" r="8" fill="#D62728" stroke="#D62728" stroke-width="2.9"/>
<text class="lg" x="2464" y="769.1">Sertoli</text>
<circle cx="2385.4" cy="850.9" r="8" fill="#9467BD" stroke="#9467BD" stroke-width="2.9"/>
<text class="lg" x="2464" y="875.5">SmoothMuscle</text>
<circle cx="2385.4" cy="957.3" r="8" fill="#8C564B" stroke="#8C564B" stroke-width="2.9"/>
<text class="lg" x="2464" y="981.9">Spermatid</text>
<circle cx="2385.4" cy="1063.7" r="8" fill="#E377C2" stroke="#E377C2" stroke-width="2.9"/>
<text class="lg" x="2464" y="1088.3">Spermatocyte</text>
<circle cx="2385.4" cy="1170.1" r="8" fill="#7F7F7F" stroke="#7F7F7F" stroke-width="2.9"/>
<text class="lg" x="2464" y="1194.7">Spermatogonia</text>
<text class="lt" x="2332" y="1355.2">Expression(log2(TPM+1))</text>
<circle cx="2385.4" cy="1437.3" r="8" fill="#000" stroke="#000" stroke-width="2.9" fill-opacity="0.18" stroke-opacity="0.18"/>
<text class="lg" x="2464" y="1461.9">5</text>
<circle cx="2385.4" cy="1543.5" r="8" fill="#000" stroke="#000" stroke-width="2.9" fill-opacity="0.36" stroke-opacity="0.36"/>
<text class="lg" x="2464" y="1568.1">6</text>
<circle cx="2385.4" cy="1649.7" r="8" fill="#000" stroke="#000" stroke-width="2.9" fill-opacity="0.54" stroke-opacity="0.54"/>
<text class="lg" x="2464" y="1674.3">7</text>
<circle cx="2385.4" cy="1755.9" r="8" fill="#000" stroke="#000" stroke-width="2.9" fill-opacity="0.72" stroke-opacity="0.72"/>
<text class="lg" x="2464" y="1780.5">8</text>
<circle cx="2385.4" cy="1862.1" r="8" fill="#000" stroke="#000" stroke-width="2.9" fill-opacity="0.90" stroke-opacity="0.90"/>
<text class="lg" x="2464" y="1886.7">9</text>
</svg>
</body></html>
